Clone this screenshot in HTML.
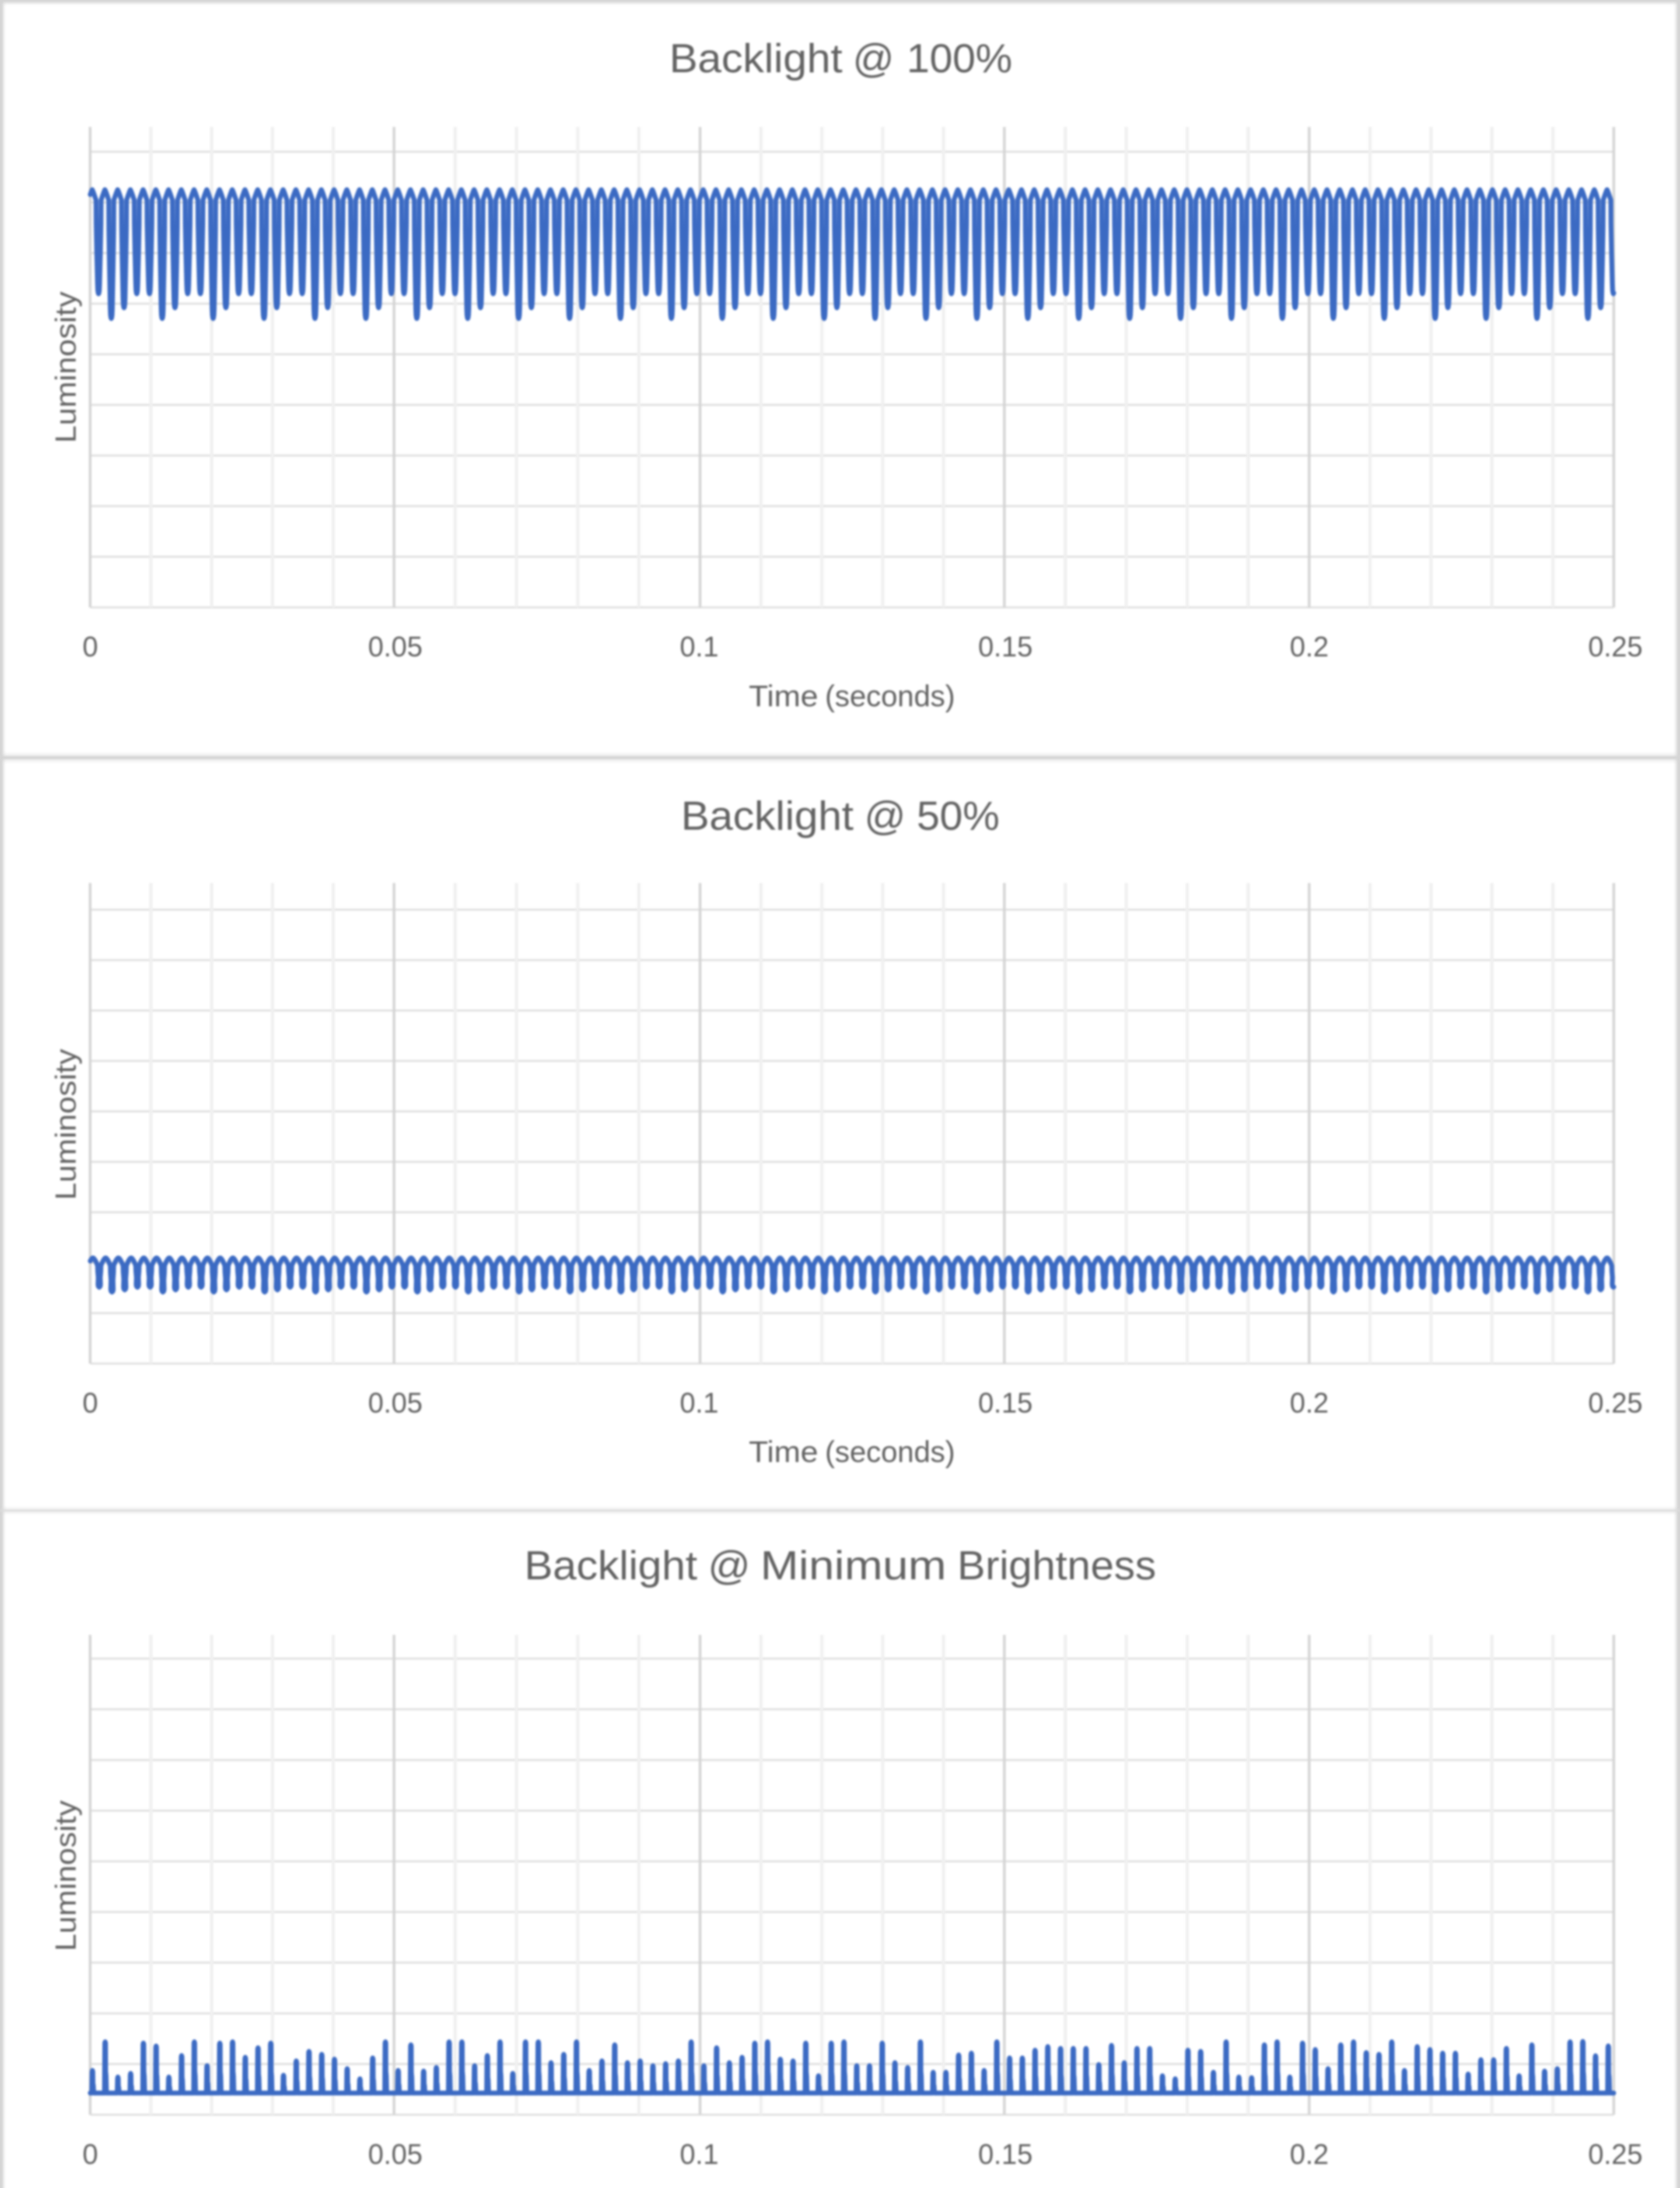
<!DOCTYPE html>
<html><head><meta charset="utf-8"><title>Backlight luminosity charts</title>
<style>
html,body{margin:0;padding:0;background:#fff;}
body{width:3840px;height:5179px;overflow:hidden;}
svg{display:block;}
text{font-family:"Liberation Sans",Arial,sans-serif;fill:#626262;}
</style></head><body>
<svg width="3840" height="5179" viewBox="0 0 3840 5179">
<defs><filter id="b" x="-0.01" y="-0.01" width="1.02" height="1.02" color-interpolation-filters="sRGB"><feGaussianBlur stdDeviation="2.0"/></filter></defs>
<rect width="3840" height="5179" fill="#fff"/>
<g filter="url(#b)">
<defs><linearGradient id="gT" x1="0" y1="0" x2="0" y2="1"><stop offset="0" stop-color="#d4d4d4" stop-opacity="0.75"/><stop offset="1" stop-color="#d4d4d4" stop-opacity="0"/></linearGradient><linearGradient id="gB" x1="0" y1="1" x2="0" y2="0"><stop offset="0" stop-color="#d4d4d4" stop-opacity="0.75"/><stop offset="1" stop-color="#d4d4d4" stop-opacity="0"/></linearGradient><linearGradient id="gL" x1="0" y1="0" x2="1" y2="0"><stop offset="0" stop-color="#d4d4d4" stop-opacity="0.75"/><stop offset="1" stop-color="#d4d4d4" stop-opacity="0"/></linearGradient><linearGradient id="gR" x1="1" y1="0" x2="0" y2="0"><stop offset="0" stop-color="#d4d4d4" stop-opacity="0.75"/><stop offset="1" stop-color="#d4d4d4" stop-opacity="0"/></linearGradient><linearGradient id="gT2" x1="0" y1="0" x2="0" y2="1"><stop offset="0" stop-color="#d4d4d4" stop-opacity="0.45"/><stop offset="1" stop-color="#d4d4d4" stop-opacity="0"/></linearGradient><linearGradient id="gB2" x1="0" y1="1" x2="0" y2="0"><stop offset="0" stop-color="#d4d4d4" stop-opacity="0.45"/><stop offset="1" stop-color="#d4d4d4" stop-opacity="0"/></linearGradient></defs>
<rect x="0" y="4" width="3840" height="8" fill="url(#gT)"/>
<rect x="5" y="0" width="8" height="5179" fill="url(#gL)"/>
<rect x="3826" y="0" width="8" height="5179" fill="url(#gR)"/>
<rect x="0" y="5165.5" width="3840" height="9" fill="url(#gB)"/>
<rect x="0" y="1718" width="3840" height="10" fill="url(#gB2)"/>
<rect x="0" y="1734.8" width="3840" height="10" fill="url(#gT2)"/>
<rect x="0" y="3441" width="3840" height="8.6" fill="url(#gB2)" opacity="0.8"/>
<rect x="0" y="3454" width="3840" height="8" fill="url(#gT2)" opacity="0.8"/>
<g fill="#d4d4d4">
<rect x="-10" y="-10" width="15.5" height="5199"/>
<rect x="3834" y="-10" width="20" height="5199"/>
<rect x="-10" y="-10" width="3860" height="14"/>
<rect x="-10" y="5174.5" width="3860" height="20"/>
<rect x="0" y="1728" width="3840" height="6.8"/>
</g>
<rect x="0" y="3449.6" width="3840" height="4.4" fill="#dcdcdc"/>
<g stroke="#dfdfdf" stroke-width="4.5">
<line x1="206.3" y1="346.8" x2="3688.5" y2="346.8"/>
<line x1="206.3" y1="462.5" x2="3688.5" y2="462.5"/>
<line x1="206.3" y1="578.2" x2="3688.5" y2="578.2"/>
<line x1="206.3" y1="693.9" x2="3688.5" y2="693.9"/>
<line x1="206.3" y1="809.6" x2="3688.5" y2="809.6"/>
<line x1="206.3" y1="925.2" x2="3688.5" y2="925.2"/>
<line x1="206.3" y1="1040.9" x2="3688.5" y2="1040.9"/>
<line x1="206.3" y1="1156.6" x2="3688.5" y2="1156.6"/>
<line x1="206.3" y1="1272.3" x2="3688.5" y2="1272.3"/>
<line x1="206.3" y1="1388" x2="3688.5" y2="1388"/>
</g>
<g stroke="#f0f0f0" stroke-width="7.5">
<line x1="344.9" y1="290" x2="344.9" y2="1388"/>
<line x1="483.8" y1="290" x2="483.8" y2="1388"/>
<line x1="622.8" y1="290" x2="622.8" y2="1388"/>
<line x1="761.7" y1="290" x2="761.7" y2="1388"/>
<line x1="1040.5" y1="290" x2="1040.5" y2="1388"/>
<line x1="1180.4" y1="290" x2="1180.4" y2="1388"/>
<line x1="1320.4" y1="290" x2="1320.4" y2="1388"/>
<line x1="1460.3" y1="290" x2="1460.3" y2="1388"/>
<line x1="1739.3" y1="290" x2="1739.3" y2="1388"/>
<line x1="1878.4" y1="290" x2="1878.4" y2="1388"/>
<line x1="2017.4" y1="290" x2="2017.4" y2="1388"/>
<line x1="2156.5" y1="290" x2="2156.5" y2="1388"/>
<line x1="2435" y1="290" x2="2435" y2="1388"/>
<line x1="2574.3" y1="290" x2="2574.3" y2="1388"/>
<line x1="2713.7" y1="290" x2="2713.7" y2="1388"/>
<line x1="2853" y1="290" x2="2853" y2="1388"/>
<line x1="3131.6" y1="290" x2="3131.6" y2="1388"/>
<line x1="3270.9" y1="290" x2="3270.9" y2="1388"/>
<line x1="3410.1" y1="290" x2="3410.1" y2="1388"/>
<line x1="3549.4" y1="290" x2="3549.4" y2="1388"/>
</g>
<g stroke="#d4d4d4" stroke-width="6">
<line x1="206" y1="290" x2="206" y2="1388"/>
<line x1="900.6" y1="290" x2="900.6" y2="1388"/>
<line x1="1600.2" y1="290" x2="1600.2" y2="1388"/>
<line x1="2295.6" y1="290" x2="2295.6" y2="1388"/>
<line x1="2992.4" y1="290" x2="2992.4" y2="1388"/>
<line x1="3688.6" y1="290" x2="3688.6" y2="1388"/>
</g>
<polyline fill="none" stroke="#3b6ac3" stroke-width="11" stroke-linejoin="round" stroke-linecap="round" points="206.3,444.5 206.4,444.3 207.5,441.3 208.6,438.4 209.7,435.7 210.8,433.5 211.8,435.7 212.9,438.4 214,441.3 215.1,444.3 216.2,447.5 217.3,450.7 218.4,454.1 219.5,457.5 219.8,511 221.1,575.2 223,649.5 223.6,663.5 224.5,669.5 225.3,671.5 226.1,669.5 227,663.5 227.6,649.5 229.5,575.2 230.8,511 231.1,457.5 232.2,454.1 233.3,450.7 234.4,447.5 235.5,444.3 236.6,441.3 237.7,438.4 238.8,435.7 239.8,433.5 240.9,435.7 242,438.4 243.1,441.3 244.2,444.3 245.3,447.5 246.4,450.7 247.5,454.1 248.6,457.5 248.9,525.1 250.2,606.3 252.1,706 252.7,720 253.6,726 254.4,728 255.2,726 256.1,720 256.7,706 258.6,606.3 259.9,525.1 260.2,457.5 261.3,454.1 262.4,450.7 263.5,447.5 264.6,444.3 265.7,441.3 266.8,438.4 267.9,435.7 268.9,433.5 270,435.7 271.1,438.4 272.2,441.3 273.3,444.3 274.4,447.5 275.5,450.7 276.6,454.1 277.7,457.5 278,519 279.3,592.8 281.2,681.5 281.8,695.5 282.7,701.5 283.5,703.5 284.3,701.5 285.2,695.5 285.8,681.5 287.7,592.8 289,519 289.3,457.5 290.4,454.1 291.5,450.7 292.6,447.5 293.7,444.3 294.8,441.3 295.9,438.4 296.9,435.7 298,433.5 299.1,435.7 300.2,438.4 301.3,441.3 302.4,444.3 303.5,447.5 304.6,450.7 305.7,454.1 306.8,457.5 307.1,511 308.4,575.2 310.3,649.5 310.9,663.5 311.8,669.5 312.6,671.5 313.4,669.5 314.3,663.5 314.9,649.5 316.8,575.2 318.1,511 318.4,457.5 319.5,454.1 320.6,450.7 321.7,447.5 322.8,444.3 323.9,441.3 324.9,438.4 326,435.7 327.1,433.5 328.2,435.7 329.3,438.4 330.4,441.3 331.5,444.3 332.6,447.5 333.7,450.7 334.8,454.1 335.9,457.5 336.2,511 337.5,575.2 339.4,649.5 340,663.5 340.9,669.5 341.7,671.5 342.5,669.5 343.4,663.5 344,649.5 345.9,575.2 347.2,511 347.5,457.5 348.6,454.1 349.7,450.7 350.8,447.5 351.9,444.3 353,441.3 354,438.4 355.1,435.7 356.2,433.5 357.3,435.7 358.4,438.4 359.5,441.3 360.6,444.3 361.7,447.5 362.8,450.7 363.9,454.1 365,457.5 365.3,525.1 366.6,606.3 368.5,706 369.1,720 370,726 370.8,728 371.6,726 372.5,720 373.1,706 375,606.3 376.3,525.1 376.6,457.5 377.7,454.1 378.8,450.7 379.9,447.5 381,444.3 382,441.3 383.1,438.4 384.2,435.7 385.3,433.5 386.4,435.7 387.5,438.4 388.6,441.3 389.7,444.3 390.8,447.5 391.9,450.7 393,454.1 394.1,457.5 394.4,519 395.7,592.8 397.6,681.5 398.2,695.5 399.1,701.5 399.9,703.5 400.7,701.5 401.6,695.5 402.2,681.5 404.1,592.8 405.4,519 405.7,457.5 406.8,454.1 407.9,450.7 409,447.5 410,444.3 411.1,441.3 412.2,438.4 413.3,435.7 414.4,433.5 415.5,435.7 416.6,438.4 417.7,441.3 418.8,444.3 419.9,447.5 421,450.7 422.1,454.1 423.2,457.5 423.5,511 424.8,575.2 426.7,649.5 427.3,663.5 428.2,669.5 429,671.5 429.8,669.5 430.7,663.5 431.3,649.5 433.2,575.2 434.5,511 434.8,457.5 435.9,454.1 437,450.7 438.1,447.5 439.1,444.3 440.2,441.3 441.3,438.4 442.4,435.7 443.5,433.5 444.6,435.7 445.7,438.4 446.8,441.3 447.9,444.3 449,447.5 450.1,450.7 451.2,454.1 452.3,457.5 452.6,511 453.9,575.2 455.8,649.5 456.4,663.5 457.3,669.5 458.1,671.5 458.9,669.5 459.8,663.5 460.4,649.5 462.3,575.2 463.6,511 463.9,457.5 465,454.1 466.1,450.7 467.1,447.5 468.2,444.3 469.3,441.3 470.4,438.4 471.5,435.7 472.6,433.5 473.7,435.7 474.8,438.4 475.9,441.3 477,444.3 478.1,447.5 479.2,450.7 480.3,454.1 481.4,457.5 481.7,525.1 483,606.3 484.9,706 485.5,720 486.4,726 487.2,728 488,726 488.9,720 489.5,706 491.4,606.3 492.7,525.1 493,457.5 494.1,454.1 495.2,450.7 496.2,447.5 497.3,444.3 498.4,441.3 499.5,438.4 500.6,435.7 501.7,433.5 502.8,435.7 503.9,438.4 505,441.3 506.1,444.3 507.2,447.5 508.3,450.7 509.4,454.1 510.5,457.5 510.8,519 512.1,592.8 514,681.5 514.6,695.5 515.5,701.5 516.3,703.5 517.1,701.5 518,695.5 518.6,681.5 520.5,592.8 521.8,519 522.1,457.5 523.2,454.1 524.2,450.7 525.3,447.5 526.4,444.3 527.5,441.3 528.6,438.4 529.7,435.7 530.8,433.5 531.9,435.7 533,438.4 534.1,441.3 535.2,444.3 536.3,447.5 537.4,450.7 538.5,454.1 539.6,457.5 539.9,511 541.2,575.2 543.1,649.5 543.7,663.5 544.6,669.5 545.4,671.5 546.2,669.5 547.1,663.5 547.7,649.5 549.6,575.2 550.9,511 551.2,457.5 552.2,454.1 553.3,450.7 554.4,447.5 555.5,444.3 556.6,441.3 557.7,438.4 558.8,435.7 559.9,433.5 561,435.7 562.1,438.4 563.2,441.3 564.3,444.3 565.4,447.5 566.5,450.7 567.6,454.1 568.7,457.5 569,511 570.3,575.2 572.2,649.5 572.8,663.5 573.7,669.5 574.5,671.5 575.3,669.5 576.2,663.5 576.8,649.5 578.7,575.2 580,511 580.3,457.5 581.3,454.1 582.4,450.7 583.5,447.5 584.6,444.3 585.7,441.3 586.8,438.4 587.9,435.7 589,433.5 590.1,435.7 591.2,438.4 592.3,441.3 593.4,444.3 594.5,447.5 595.6,450.7 596.7,454.1 597.7,457.5 598,525.1 599.3,606.3 601.2,706 601.8,720 602.7,726 603.5,728 604.3,726 605.2,720 605.8,706 607.7,606.3 609,525.1 609.3,457.5 610.4,454.1 611.5,450.7 612.6,447.5 613.7,444.3 614.8,441.3 615.9,438.4 617,435.7 618.1,433.5 619.2,435.7 620.3,438.4 621.4,441.3 622.5,444.3 623.6,447.5 624.7,450.7 625.8,454.1 626.8,457.5 627.1,519 628.4,592.8 630.3,681.5 630.9,695.5 631.8,701.5 632.6,703.5 633.4,701.5 634.3,695.5 634.9,681.5 636.8,592.8 638.1,519 638.4,457.5 639.5,454.1 640.6,450.7 641.7,447.5 642.8,444.3 643.9,441.3 645,438.4 646.1,435.7 647.2,433.5 648.3,435.7 649.4,438.4 650.5,441.3 651.6,444.3 652.7,447.5 653.8,450.7 654.8,454.1 655.9,457.5 656.2,511 657.5,575.2 659.4,649.5 660,663.5 660.9,669.5 661.7,671.5 662.5,669.5 663.4,663.5 664,649.5 665.9,575.2 667.2,511 667.5,457.5 668.6,454.1 669.7,450.7 670.8,447.5 671.9,444.3 673,441.3 674.1,438.4 675.2,435.7 676.3,433.5 677.4,435.7 678.5,438.4 679.6,441.3 680.7,444.3 681.8,447.5 682.8,450.7 683.9,454.1 685,457.5 685.3,511 686.6,575.2 688.5,649.5 689.1,663.5 690,669.5 690.8,671.5 691.6,669.5 692.5,663.5 693.1,649.5 695,575.2 696.3,511 696.6,457.5 697.7,454.1 698.8,450.7 699.9,447.5 701,444.3 702.1,441.3 703.2,438.4 704.3,435.7 705.4,433.5 706.5,435.7 707.6,438.4 708.7,441.3 709.8,444.3 710.9,447.5 711.9,450.7 713,454.1 714.1,457.5 714.4,525.1 715.7,606.3 717.6,706 718.2,720 719.1,726 719.9,728 720.7,726 721.6,720 722.2,706 724.1,606.3 725.4,525.1 725.7,457.5 726.8,454.1 727.9,450.7 729,447.5 730.1,444.3 731.2,441.3 732.3,438.4 733.4,435.7 734.5,433.5 735.6,435.7 736.7,438.4 737.8,441.3 738.9,444.3 739.9,447.5 741,450.7 742.1,454.1 743.2,457.5 743.5,519 744.8,592.8 746.7,681.5 747.3,695.5 748.2,701.5 749,703.5 749.8,701.5 750.7,695.5 751.3,681.5 753.2,592.8 754.5,519 754.8,457.5 755.9,454.1 757,450.7 758.1,447.5 759.2,444.3 760.3,441.3 761.4,438.4 762.5,435.7 763.6,433.5 764.7,435.7 765.8,438.4 766.9,441.3 768,444.3 769,447.5 770.1,450.7 771.2,454.1 772.3,457.5 772.6,511 773.9,575.2 775.8,649.5 776.4,663.5 777.3,669.5 778.1,671.5 778.9,669.5 779.8,663.5 780.4,649.5 782.3,575.2 783.6,511 783.9,457.5 785,454.1 786.1,450.7 787.2,447.5 788.3,444.3 789.4,441.3 790.5,438.4 791.6,435.7 792.7,433.5 793.8,435.7 794.9,438.4 796,441.3 797,444.3 798.1,447.5 799.2,450.7 800.3,454.1 801.4,457.5 801.7,511 803,575.2 804.9,649.5 805.5,663.5 806.4,669.5 807.2,671.5 808,669.5 808.9,663.5 809.5,649.5 811.4,575.2 812.7,511 813,457.5 814.1,454.1 815.2,450.7 816.3,447.5 817.4,444.3 818.5,441.3 819.6,438.4 820.7,435.7 821.8,433.5 822.9,435.7 824,438.4 825,441.3 826.1,444.3 827.2,447.5 828.3,450.7 829.4,454.1 830.5,457.5 830.8,525.1 832.1,606.3 834,706 834.6,720 835.5,726 836.3,728 837.1,726 838,720 838.6,706 840.5,606.3 841.8,525.1 842.1,457.5 843.2,454.1 844.3,450.7 845.4,447.5 846.5,444.3 847.6,441.3 848.7,438.4 849.8,435.7 850.9,433.5 852,435.7 853.1,438.4 854.1,441.3 855.2,444.3 856.3,447.5 857.4,450.7 858.5,454.1 859.6,457.5 859.9,519 861.2,592.8 863.1,681.5 863.7,695.5 864.6,701.5 865.4,703.5 866.2,701.5 867.1,695.5 867.7,681.5 869.6,592.8 870.9,519 871.2,457.5 872.3,454.1 873.4,450.7 874.5,447.5 875.6,444.3 876.7,441.3 877.8,438.4 878.9,435.7 880,433.5 881.1,435.7 882.1,438.4 883.2,441.3 884.3,444.3 885.4,447.5 886.5,450.7 887.6,454.1 888.7,457.5 889,511 890.3,575.2 892.2,649.5 892.8,663.5 893.7,669.5 894.5,671.5 895.3,669.5 896.2,663.5 896.8,649.5 898.7,575.2 900,511 900.3,457.5 901.4,454.1 902.5,450.7 903.6,447.5 904.7,444.3 905.8,441.3 906.9,438.4 908,435.7 909.1,433.5 910.1,435.7 911.2,438.4 912.3,441.3 913.4,444.3 914.5,447.5 915.6,450.7 916.7,454.1 917.8,457.5 918.1,511 919.4,575.2 921.3,649.5 921.9,663.5 922.8,669.5 923.6,671.5 924.4,669.5 925.3,663.5 925.9,649.5 927.8,575.2 929.1,511 929.4,457.5 930.5,454.1 931.6,450.7 932.7,447.5 933.8,444.3 934.9,441.3 936,438.4 937.1,435.7 938.2,433.5 939.2,435.7 940.3,438.4 941.4,441.3 942.5,444.3 943.6,447.5 944.7,450.7 945.8,454.1 946.9,457.5 947.2,525.1 948.5,606.3 950.4,706 951,720 951.9,726 952.7,728 953.5,726 954.4,720 955,706 956.9,606.3 958.2,525.1 958.5,457.5 959.6,454.1 960.7,450.7 961.8,447.5 962.9,444.3 964,441.3 965.1,438.4 966.2,435.7 967.2,433.5 968.3,435.7 969.4,438.4 970.5,441.3 971.6,444.3 972.7,447.5 973.8,450.7 974.9,454.1 976,457.5 976.3,519 977.6,592.8 979.5,681.5 980.1,695.5 981,701.5 981.8,703.5 982.6,701.5 983.5,695.5 984.1,681.5 986,592.8 987.3,519 987.6,457.5 988.7,454.1 989.8,450.7 990.9,447.5 992,444.3 993.1,441.3 994.2,438.4 995.3,435.7 996.3,433.5 997.4,435.7 998.5,438.4 999.6,441.3 1000.7,444.3 1001.8,447.5 1002.9,450.7 1004,454.1 1005.1,457.5 1005.4,511 1006.7,575.2 1008.6,649.5 1009.2,663.5 1010.1,669.5 1010.9,671.5 1011.7,669.5 1012.6,663.5 1013.2,649.5 1015.1,575.2 1016.4,511 1016.7,457.5 1017.8,454.1 1018.9,450.7 1020,447.5 1021.1,444.3 1022.2,441.3 1023.3,438.4 1024.3,435.7 1025.4,433.5 1026.5,435.7 1027.6,438.4 1028.7,441.3 1029.8,444.3 1030.9,447.5 1032,450.7 1033.1,454.1 1034.2,457.5 1034.5,511 1035.8,575.2 1037.7,649.5 1038.3,663.5 1039.2,669.5 1040,671.5 1040.8,669.5 1041.7,663.5 1042.3,649.5 1044.2,575.2 1045.5,511 1045.8,457.5 1046.9,454.1 1048,450.7 1049.1,447.5 1050.2,444.3 1051.3,441.3 1052.3,438.4 1053.4,435.7 1054.5,433.5 1055.6,435.7 1056.7,438.4 1057.8,441.3 1058.9,444.3 1060,447.5 1061.1,450.7 1062.2,454.1 1063.3,457.5 1063.6,525.1 1064.9,606.3 1066.8,706 1067.4,720 1068.3,726 1069.1,728 1069.9,726 1070.8,720 1071.4,706 1073.3,606.3 1074.6,525.1 1074.9,457.5 1076,454.1 1077.1,450.7 1078.2,447.5 1079.3,444.3 1080.4,441.3 1081.4,438.4 1082.5,435.7 1083.6,433.5 1084.7,435.7 1085.8,438.4 1086.9,441.3 1088,444.3 1089.1,447.5 1090.2,450.7 1091.3,454.1 1092.4,457.5 1092.7,519 1094,592.8 1095.9,681.5 1096.5,695.5 1097.4,701.5 1098.2,703.5 1099,701.5 1099.9,695.5 1100.5,681.5 1102.4,592.8 1103.7,519 1104,457.5 1105.1,454.1 1106.2,450.7 1107.3,447.5 1108.4,444.3 1109.4,441.3 1110.5,438.4 1111.6,435.7 1112.7,433.5 1113.8,435.7 1114.9,438.4 1116,441.3 1117.1,444.3 1118.2,447.5 1119.3,450.7 1120.4,454.1 1121.5,457.5 1121.8,511 1123.1,575.2 1125,649.5 1125.6,663.5 1126.5,669.5 1127.3,671.5 1128.1,669.5 1129,663.5 1129.6,649.5 1131.5,575.2 1132.8,511 1133.1,457.5 1134.2,454.1 1135.3,450.7 1136.4,447.5 1137.5,444.3 1138.5,441.3 1139.6,438.4 1140.7,435.7 1141.8,433.5 1142.9,435.7 1144,438.4 1145.1,441.3 1146.2,444.3 1147.3,447.5 1148.4,450.7 1149.5,454.1 1150.6,457.5 1150.9,511 1152.2,575.2 1154.1,649.5 1154.7,663.5 1155.6,669.5 1156.4,671.5 1157.2,669.5 1158.1,663.5 1158.7,649.5 1160.6,575.2 1161.9,511 1162.2,457.5 1163.3,454.1 1164.4,450.7 1165.5,447.5 1166.5,444.3 1167.6,441.3 1168.7,438.4 1169.8,435.7 1170.9,433.5 1172,435.7 1173.1,438.4 1174.2,441.3 1175.3,444.3 1176.4,447.5 1177.5,450.7 1178.6,454.1 1179.7,457.5 1180,525.1 1181.3,606.3 1183.2,706 1183.8,720 1184.7,726 1185.5,728 1186.3,726 1187.2,720 1187.8,706 1189.7,606.3 1191,525.1 1191.3,457.5 1192.4,454.1 1193.5,450.7 1194.5,447.5 1195.6,444.3 1196.7,441.3 1197.8,438.4 1198.9,435.7 1200,433.5 1201.1,435.7 1202.2,438.4 1203.3,441.3 1204.4,444.3 1205.5,447.5 1206.6,450.7 1207.7,454.1 1208.8,457.5 1209.1,519 1210.4,592.8 1212.3,681.5 1212.9,695.5 1213.8,701.5 1214.6,703.5 1215.4,701.5 1216.3,695.5 1216.9,681.5 1218.8,592.8 1220.1,519 1220.4,457.5 1221.5,454.1 1222.6,450.7 1223.6,447.5 1224.7,444.3 1225.8,441.3 1226.9,438.4 1228,435.7 1229.1,433.5 1230.2,435.7 1231.3,438.4 1232.4,441.3 1233.5,444.3 1234.6,447.5 1235.7,450.7 1236.8,454.1 1237.9,457.5 1238.2,511 1239.5,575.2 1241.4,649.5 1242,663.5 1242.9,669.5 1243.7,671.5 1244.5,669.5 1245.4,663.5 1246,649.5 1247.9,575.2 1249.2,511 1249.5,457.5 1250.6,454.1 1251.6,450.7 1252.7,447.5 1253.8,444.3 1254.9,441.3 1256,438.4 1257.1,435.7 1258.2,433.5 1259.3,435.7 1260.4,438.4 1261.5,441.3 1262.6,444.3 1263.7,447.5 1264.8,450.7 1265.9,454.1 1267,457.5 1267.3,511 1268.6,575.2 1270.5,649.5 1271.1,663.5 1272,669.5 1272.8,671.5 1273.6,669.5 1274.5,663.5 1275.1,649.5 1277,575.2 1278.3,511 1278.6,457.5 1279.6,454.1 1280.7,450.7 1281.8,447.5 1282.9,444.3 1284,441.3 1285.1,438.4 1286.2,435.7 1287.3,433.5 1288.4,435.7 1289.5,438.4 1290.6,441.3 1291.7,444.3 1292.8,447.5 1293.9,450.7 1295,454.1 1296.1,457.5 1296.4,525.1 1297.7,606.3 1299.6,706 1300.2,720 1301.1,726 1301.9,728 1302.7,726 1303.6,720 1304.2,706 1306.1,606.3 1307.4,525.1 1307.7,457.5 1308.7,454.1 1309.8,450.7 1310.9,447.5 1312,444.3 1313.1,441.3 1314.2,438.4 1315.3,435.7 1316.4,433.5 1317.5,435.7 1318.6,438.4 1319.7,441.3 1320.8,444.3 1321.9,447.5 1323,450.7 1324.1,454.1 1325.1,457.5 1325.4,519 1326.7,592.8 1328.6,681.5 1329.2,695.5 1330.1,701.5 1330.9,703.5 1331.7,701.5 1332.6,695.5 1333.2,681.5 1335.1,592.8 1336.4,519 1336.7,457.5 1337.8,454.1 1338.9,450.7 1340,447.5 1341.1,444.3 1342.2,441.3 1343.3,438.4 1344.4,435.7 1345.5,433.5 1346.6,435.7 1347.7,438.4 1348.8,441.3 1349.9,444.3 1351,447.5 1352.1,450.7 1353.2,454.1 1354.2,457.5 1354.5,511 1355.8,575.2 1357.7,649.5 1358.3,663.5 1359.2,669.5 1360,671.5 1360.8,669.5 1361.7,663.5 1362.3,649.5 1364.2,575.2 1365.5,511 1365.8,457.5 1366.9,454.1 1368,450.7 1369.1,447.5 1370.2,444.3 1371.3,441.3 1372.4,438.4 1373.5,435.7 1374.6,433.5 1375.7,435.7 1376.8,438.4 1377.9,441.3 1379,444.3 1380.1,447.5 1381.2,450.7 1382.2,454.1 1383.3,457.5 1383.6,511 1384.9,575.2 1386.8,649.5 1387.4,663.5 1388.3,669.5 1389.1,671.5 1389.9,669.5 1390.8,663.5 1391.4,649.5 1393.3,575.2 1394.6,511 1394.9,457.5 1396,454.1 1397.1,450.7 1398.2,447.5 1399.3,444.3 1400.4,441.3 1401.5,438.4 1402.6,435.7 1403.7,433.5 1404.8,435.7 1405.9,438.4 1407,441.3 1408.1,444.3 1409.2,447.5 1410.2,450.7 1411.3,454.1 1412.4,457.5 1412.7,525.1 1414,606.3 1415.9,706 1416.5,720 1417.4,726 1418.2,728 1419,726 1419.9,720 1420.5,706 1422.4,606.3 1423.7,525.1 1424,457.5 1425.1,454.1 1426.2,450.7 1427.3,447.5 1428.4,444.3 1429.5,441.3 1430.6,438.4 1431.7,435.7 1432.8,433.5 1433.9,435.7 1435,438.4 1436.1,441.3 1437.2,444.3 1438.3,447.5 1439.3,450.7 1440.4,454.1 1441.5,457.5 1441.8,519 1443.1,592.8 1445,681.5 1445.6,695.5 1446.5,701.5 1447.3,703.5 1448.1,701.5 1449,695.5 1449.6,681.5 1451.5,592.8 1452.8,519 1453.1,457.5 1454.2,454.1 1455.3,450.7 1456.4,447.5 1457.5,444.3 1458.6,441.3 1459.7,438.4 1460.8,435.7 1461.9,433.5 1463,435.7 1464.1,438.4 1465.2,441.3 1466.3,444.3 1467.3,447.5 1468.4,450.7 1469.5,454.1 1470.6,457.5 1470.9,511 1472.2,575.2 1474.1,649.5 1474.7,663.5 1475.6,669.5 1476.4,671.5 1477.2,669.5 1478.1,663.5 1478.7,649.5 1480.6,575.2 1481.9,511 1482.2,457.5 1483.3,454.1 1484.4,450.7 1485.5,447.5 1486.6,444.3 1487.7,441.3 1488.8,438.4 1489.9,435.7 1491,433.5 1492.1,435.7 1493.2,438.4 1494.3,441.3 1495.3,444.3 1496.4,447.5 1497.5,450.7 1498.6,454.1 1499.7,457.5 1500,511 1501.3,575.2 1503.2,649.5 1503.8,663.5 1504.7,669.5 1505.5,671.5 1506.3,669.5 1507.2,663.5 1507.8,649.5 1509.7,575.2 1511,511 1511.3,457.5 1512.4,454.1 1513.5,450.7 1514.6,447.5 1515.7,444.3 1516.8,441.3 1517.9,438.4 1519,435.7 1520.1,433.5 1521.2,435.7 1522.3,438.4 1523.4,441.3 1524.4,444.3 1525.5,447.5 1526.6,450.7 1527.7,454.1 1528.8,457.5 1529.1,525.1 1530.4,606.3 1532.3,706 1532.9,720 1533.8,726 1534.6,728 1535.4,726 1536.3,720 1536.9,706 1538.8,606.3 1540.1,525.1 1540.4,457.5 1541.5,454.1 1542.6,450.7 1543.7,447.5 1544.8,444.3 1545.9,441.3 1547,438.4 1548.1,435.7 1549.2,433.5 1550.3,435.7 1551.4,438.4 1552.4,441.3 1553.5,444.3 1554.6,447.5 1555.7,450.7 1556.8,454.1 1557.9,457.5 1558.2,519 1559.5,592.8 1561.4,681.5 1562,695.5 1562.9,701.5 1563.7,703.5 1564.5,701.5 1565.4,695.5 1566,681.5 1567.9,592.8 1569.2,519 1569.5,457.5 1570.6,454.1 1571.7,450.7 1572.8,447.5 1573.9,444.3 1575,441.3 1576.1,438.4 1577.2,435.7 1578.3,433.5 1579.4,435.7 1580.5,438.4 1581.5,441.3 1582.6,444.3 1583.7,447.5 1584.8,450.7 1585.9,454.1 1587,457.5 1587.3,511 1588.6,575.2 1590.5,649.5 1591.1,663.5 1592,669.5 1592.8,671.5 1593.6,669.5 1594.5,663.5 1595.1,649.5 1597,575.2 1598.3,511 1598.6,457.5 1599.7,454.1 1600.8,450.7 1601.9,447.5 1603,444.3 1604.1,441.3 1605.2,438.4 1606.3,435.7 1607.4,433.5 1608.5,435.7 1609.5,438.4 1610.6,441.3 1611.7,444.3 1612.8,447.5 1613.9,450.7 1615,454.1 1616.1,457.5 1616.4,511 1617.7,575.2 1619.6,649.5 1620.2,663.5 1621.1,669.5 1621.9,671.5 1622.7,669.5 1623.6,663.5 1624.2,649.5 1626.1,575.2 1627.4,511 1627.7,457.5 1628.8,454.1 1629.9,450.7 1631,447.5 1632.1,444.3 1633.2,441.3 1634.3,438.4 1635.4,435.7 1636.5,433.5 1637.5,435.7 1638.6,438.4 1639.7,441.3 1640.8,444.3 1641.9,447.5 1643,450.7 1644.1,454.1 1645.2,457.5 1645.5,525.1 1646.8,606.3 1648.7,706 1649.3,720 1650.2,726 1651,728 1651.8,726 1652.7,720 1653.3,706 1655.2,606.3 1656.5,525.1 1656.8,457.5 1657.9,454.1 1659,450.7 1660.1,447.5 1661.2,444.3 1662.3,441.3 1663.4,438.4 1664.5,435.7 1665.6,433.5 1666.6,435.7 1667.7,438.4 1668.8,441.3 1669.9,444.3 1671,447.5 1672.1,450.7 1673.2,454.1 1674.3,457.5 1674.6,519 1675.9,592.8 1677.8,681.5 1678.4,695.5 1679.3,701.5 1680.1,703.5 1680.9,701.5 1681.8,695.5 1682.4,681.5 1684.3,592.8 1685.6,519 1685.9,457.5 1687,454.1 1688.1,450.7 1689.2,447.5 1690.3,444.3 1691.4,441.3 1692.5,438.4 1693.6,435.7 1694.6,433.5 1695.7,435.7 1696.8,438.4 1697.9,441.3 1699,444.3 1700.1,447.5 1701.2,450.7 1702.3,454.1 1703.4,457.5 1703.7,511 1705,575.2 1706.9,649.5 1707.5,663.5 1708.4,669.5 1709.2,671.5 1710,669.5 1710.9,663.5 1711.5,649.5 1713.4,575.2 1714.7,511 1715,457.5 1716.1,454.1 1717.2,450.7 1718.3,447.5 1719.4,444.3 1720.5,441.3 1721.6,438.4 1722.7,435.7 1723.7,433.5 1724.8,435.7 1725.9,438.4 1727,441.3 1728.1,444.3 1729.2,447.5 1730.3,450.7 1731.4,454.1 1732.5,457.5 1732.8,511 1734.1,575.2 1736,649.5 1736.6,663.5 1737.5,669.5 1738.3,671.5 1739.1,669.5 1740,663.5 1740.6,649.5 1742.5,575.2 1743.8,511 1744.1,457.5 1745.2,454.1 1746.3,450.7 1747.4,447.5 1748.5,444.3 1749.6,441.3 1750.7,438.4 1751.7,435.7 1752.8,433.5 1753.9,435.7 1755,438.4 1756.1,441.3 1757.2,444.3 1758.3,447.5 1759.4,450.7 1760.5,454.1 1761.6,457.5 1761.9,525.1 1763.2,606.3 1765.1,706 1765.7,720 1766.6,726 1767.4,728 1768.2,726 1769.1,720 1769.7,706 1771.6,606.3 1772.9,525.1 1773.2,457.5 1774.3,454.1 1775.4,450.7 1776.5,447.5 1777.6,444.3 1778.7,441.3 1779.7,438.4 1780.8,435.7 1781.9,433.5 1783,435.7 1784.1,438.4 1785.2,441.3 1786.3,444.3 1787.4,447.5 1788.5,450.7 1789.6,454.1 1790.7,457.5 1791,519 1792.3,592.8 1794.2,681.5 1794.8,695.5 1795.7,701.5 1796.5,703.5 1797.3,701.5 1798.2,695.5 1798.8,681.5 1800.7,592.8 1802,519 1802.3,457.5 1803.4,454.1 1804.5,450.7 1805.6,447.5 1806.7,444.3 1807.8,441.3 1808.8,438.4 1809.9,435.7 1811,433.5 1812.1,435.7 1813.2,438.4 1814.3,441.3 1815.4,444.3 1816.5,447.5 1817.6,450.7 1818.7,454.1 1819.8,457.5 1820.1,511 1821.4,575.2 1823.3,649.5 1823.9,663.5 1824.8,669.5 1825.6,671.5 1826.4,669.5 1827.3,663.5 1827.9,649.5 1829.8,575.2 1831.1,511 1831.4,457.5 1832.5,454.1 1833.6,450.7 1834.7,447.5 1835.8,444.3 1836.8,441.3 1837.9,438.4 1839,435.7 1840.1,433.5 1841.2,435.7 1842.3,438.4 1843.4,441.3 1844.5,444.3 1845.6,447.5 1846.7,450.7 1847.8,454.1 1848.9,457.5 1849.2,511 1850.5,575.2 1852.4,649.5 1853,663.5 1853.9,669.5 1854.7,671.5 1855.5,669.5 1856.4,663.5 1857,649.5 1858.9,575.2 1860.2,511 1860.5,457.5 1861.6,454.1 1862.7,450.7 1863.8,447.5 1864.8,444.3 1865.9,441.3 1867,438.4 1868.1,435.7 1869.2,433.5 1870.3,435.7 1871.4,438.4 1872.5,441.3 1873.6,444.3 1874.7,447.5 1875.8,450.7 1876.9,454.1 1878,457.5 1878.3,525.1 1879.6,606.3 1881.5,706 1882.1,720 1883,726 1883.8,728 1884.6,726 1885.5,720 1886.1,706 1888,606.3 1889.3,525.1 1889.6,457.5 1890.7,454.1 1891.8,450.7 1892.9,447.5 1893.9,444.3 1895,441.3 1896.1,438.4 1897.2,435.7 1898.3,433.5 1899.4,435.7 1900.5,438.4 1901.6,441.3 1902.7,444.3 1903.8,447.5 1904.9,450.7 1906,454.1 1907.1,457.5 1907.4,519 1908.7,592.8 1910.6,681.5 1911.2,695.5 1912.1,701.5 1912.9,703.5 1913.7,701.5 1914.6,695.5 1915.2,681.5 1917.1,592.8 1918.4,519 1918.7,457.5 1919.8,454.1 1920.9,450.7 1921.9,447.5 1923,444.3 1924.1,441.3 1925.2,438.4 1926.3,435.7 1927.4,433.5 1928.5,435.7 1929.6,438.4 1930.7,441.3 1931.8,444.3 1932.9,447.5 1934,450.7 1935.1,454.1 1936.2,457.5 1936.5,511 1937.8,575.2 1939.7,649.5 1940.3,663.5 1941.2,669.5 1942,671.5 1942.8,669.5 1943.7,663.5 1944.3,649.5 1946.2,575.2 1947.5,511 1947.8,457.5 1948.9,454.1 1950,450.7 1951,447.5 1952.1,444.3 1953.2,441.3 1954.3,438.4 1955.4,435.7 1956.5,433.5 1957.6,435.7 1958.7,438.4 1959.8,441.3 1960.9,444.3 1962,447.5 1963.1,450.7 1964.2,454.1 1965.3,457.5 1965.6,511 1966.9,575.2 1968.8,649.5 1969.4,663.5 1970.3,669.5 1971.1,671.5 1971.9,669.5 1972.8,663.5 1973.4,649.5 1975.3,575.2 1976.6,511 1976.9,457.5 1978,454.1 1979,450.7 1980.1,447.5 1981.2,444.3 1982.3,441.3 1983.4,438.4 1984.5,435.7 1985.6,433.5 1986.7,435.7 1987.8,438.4 1988.9,441.3 1990,444.3 1991.1,447.5 1992.2,450.7 1993.3,454.1 1994.4,457.5 1994.7,525.1 1996,606.3 1997.9,706 1998.5,720 1999.4,726 2000.2,728 2001,726 2001.9,720 2002.5,706 2004.4,606.3 2005.7,525.1 2006,457.5 2007,454.1 2008.1,450.7 2009.2,447.5 2010.3,444.3 2011.4,441.3 2012.5,438.4 2013.6,435.7 2014.7,433.5 2015.8,435.7 2016.9,438.4 2018,441.3 2019.1,444.3 2020.2,447.5 2021.3,450.7 2022.4,454.1 2023.5,457.5 2023.8,519 2025.1,592.8 2027,681.5 2027.6,695.5 2028.5,701.5 2029.3,703.5 2030.1,701.5 2031,695.5 2031.6,681.5 2033.5,592.8 2034.8,519 2035.1,457.5 2036.1,454.1 2037.2,450.7 2038.3,447.5 2039.4,444.3 2040.5,441.3 2041.6,438.4 2042.7,435.7 2043.8,433.5 2044.9,435.7 2046,438.4 2047.1,441.3 2048.2,444.3 2049.3,447.5 2050.4,450.7 2051.5,454.1 2052.5,457.5 2052.8,511 2054.1,575.2 2056,649.5 2056.6,663.5 2057.5,669.5 2058.3,671.5 2059.1,669.5 2060,663.5 2060.6,649.5 2062.5,575.2 2063.8,511 2064.1,457.5 2065.2,454.1 2066.3,450.7 2067.4,447.5 2068.5,444.3 2069.6,441.3 2070.7,438.4 2071.8,435.7 2072.9,433.5 2074,435.7 2075.1,438.4 2076.2,441.3 2077.3,444.3 2078.4,447.5 2079.5,450.7 2080.6,454.1 2081.6,457.5 2081.9,511 2083.2,575.2 2085.1,649.5 2085.7,663.5 2086.6,669.5 2087.4,671.5 2088.2,669.5 2089.1,663.5 2089.7,649.5 2091.6,575.2 2092.9,511 2093.2,457.5 2094.3,454.1 2095.4,450.7 2096.5,447.5 2097.6,444.3 2098.7,441.3 2099.8,438.4 2100.9,435.7 2102,433.5 2103.1,435.7 2104.2,438.4 2105.3,441.3 2106.4,444.3 2107.5,447.5 2108.6,450.7 2109.6,454.1 2110.7,457.5 2111,525.1 2112.3,606.3 2114.2,706 2114.8,720 2115.7,726 2116.5,728 2117.3,726 2118.2,720 2118.8,706 2120.7,606.3 2122,525.1 2122.3,457.5 2123.4,454.1 2124.5,450.7 2125.6,447.5 2126.7,444.3 2127.8,441.3 2128.9,438.4 2130,435.7 2131.1,433.5 2132.2,435.7 2133.3,438.4 2134.4,441.3 2135.5,444.3 2136.6,447.5 2137.6,450.7 2138.7,454.1 2139.8,457.5 2140.1,519 2141.4,592.8 2143.3,681.5 2143.9,695.5 2144.8,701.5 2145.6,703.5 2146.4,701.5 2147.3,695.5 2147.9,681.5 2149.8,592.8 2151.1,519 2151.4,457.5 2152.5,454.1 2153.6,450.7 2154.7,447.5 2155.8,444.3 2156.9,441.3 2158,438.4 2159.1,435.7 2160.2,433.5 2161.3,435.7 2162.4,438.4 2163.5,441.3 2164.6,444.3 2165.7,447.5 2166.7,450.7 2167.8,454.1 2168.9,457.5 2169.2,511 2170.5,575.2 2172.4,649.5 2173,663.5 2173.9,669.5 2174.7,671.5 2175.5,669.5 2176.4,663.5 2177,649.5 2178.9,575.2 2180.2,511 2180.5,457.5 2181.6,454.1 2182.7,450.7 2183.8,447.5 2184.9,444.3 2186,441.3 2187.1,438.4 2188.2,435.7 2189.3,433.5 2190.4,435.7 2191.5,438.4 2192.6,441.3 2193.7,444.3 2194.7,447.5 2195.8,450.7 2196.9,454.1 2198,457.5 2198.3,511 2199.6,575.2 2201.5,649.5 2202.1,663.5 2203,669.5 2203.8,671.5 2204.6,669.5 2205.5,663.5 2206.1,649.5 2208,575.2 2209.3,511 2209.6,457.5 2210.7,454.1 2211.8,450.7 2212.9,447.5 2214,444.3 2215.1,441.3 2216.2,438.4 2217.3,435.7 2218.4,433.5 2219.5,435.7 2220.6,438.4 2221.7,441.3 2222.7,444.3 2223.8,447.5 2224.9,450.7 2226,454.1 2227.1,457.5 2227.4,525.1 2228.7,606.3 2230.6,706 2231.2,720 2232.1,726 2232.9,728 2233.7,726 2234.6,720 2235.2,706 2237.1,606.3 2238.4,525.1 2238.7,457.5 2239.8,454.1 2240.9,450.7 2242,447.5 2243.1,444.3 2244.2,441.3 2245.3,438.4 2246.4,435.7 2247.5,433.5 2248.6,435.7 2249.7,438.4 2250.8,441.3 2251.8,444.3 2252.9,447.5 2254,450.7 2255.1,454.1 2256.2,457.5 2256.5,519 2257.8,592.8 2259.7,681.5 2260.3,695.5 2261.2,701.5 2262,703.5 2262.8,701.5 2263.7,695.5 2264.3,681.5 2266.2,592.8 2267.5,519 2267.8,457.5 2268.9,454.1 2270,450.7 2271.1,447.5 2272.2,444.3 2273.3,441.3 2274.4,438.4 2275.5,435.7 2276.6,433.5 2277.7,435.7 2278.8,438.4 2279.8,441.3 2280.9,444.3 2282,447.5 2283.1,450.7 2284.2,454.1 2285.3,457.5 2285.6,511 2286.9,575.2 2288.8,649.5 2289.4,663.5 2290.3,669.5 2291.1,671.5 2291.9,669.5 2292.8,663.5 2293.4,649.5 2295.3,575.2 2296.6,511 2296.9,457.5 2298,454.1 2299.1,450.7 2300.2,447.5 2301.3,444.3 2302.4,441.3 2303.5,438.4 2304.6,435.7 2305.7,433.5 2306.8,435.7 2307.9,438.4 2308.9,441.3 2310,444.3 2311.1,447.5 2312.2,450.7 2313.3,454.1 2314.4,457.5 2314.7,511 2316,575.2 2317.9,649.5 2318.5,663.5 2319.4,669.5 2320.2,671.5 2321,669.5 2321.9,663.5 2322.5,649.5 2324.4,575.2 2325.7,511 2326,457.5 2327.1,454.1 2328.2,450.7 2329.3,447.5 2330.4,444.3 2331.5,441.3 2332.6,438.4 2333.7,435.7 2334.8,433.5 2335.9,435.7 2336.9,438.4 2338,441.3 2339.1,444.3 2340.2,447.5 2341.3,450.7 2342.4,454.1 2343.5,457.5 2343.8,525.1 2345.1,606.3 2347,706 2347.6,720 2348.5,726 2349.3,728 2350.1,726 2351,720 2351.6,706 2353.5,606.3 2354.8,525.1 2355.1,457.5 2356.2,454.1 2357.3,450.7 2358.4,447.5 2359.5,444.3 2360.6,441.3 2361.7,438.4 2362.8,435.7 2363.9,433.5 2364.9,435.7 2366,438.4 2367.1,441.3 2368.2,444.3 2369.3,447.5 2370.4,450.7 2371.5,454.1 2372.6,457.5 2372.9,519 2374.2,592.8 2376.1,681.5 2376.7,695.5 2377.6,701.5 2378.4,703.5 2379.2,701.5 2380.1,695.5 2380.7,681.5 2382.6,592.8 2383.9,519 2384.2,457.5 2385.3,454.1 2386.4,450.7 2387.5,447.5 2388.6,444.3 2389.7,441.3 2390.8,438.4 2391.9,435.7 2393,433.5 2394,435.7 2395.1,438.4 2396.2,441.3 2397.3,444.3 2398.4,447.5 2399.5,450.7 2400.6,454.1 2401.7,457.5 2402,511 2403.3,575.2 2405.2,649.5 2405.8,663.5 2406.7,669.5 2407.5,671.5 2408.3,669.5 2409.2,663.5 2409.8,649.5 2411.7,575.2 2413,511 2413.3,457.5 2414.4,454.1 2415.5,450.7 2416.6,447.5 2417.7,444.3 2418.8,441.3 2419.9,438.4 2421,435.7 2422,433.5 2423.1,435.7 2424.2,438.4 2425.3,441.3 2426.4,444.3 2427.5,447.5 2428.6,450.7 2429.7,454.1 2430.8,457.5 2431.1,511 2432.4,575.2 2434.3,649.5 2434.9,663.5 2435.8,669.5 2436.6,671.5 2437.4,669.5 2438.3,663.5 2438.9,649.5 2440.8,575.2 2442.1,511 2442.4,457.5 2443.5,454.1 2444.6,450.7 2445.7,447.5 2446.8,444.3 2447.9,441.3 2449,438.4 2450.1,435.7 2451.1,433.5 2452.2,435.7 2453.3,438.4 2454.4,441.3 2455.5,444.3 2456.6,447.5 2457.7,450.7 2458.8,454.1 2459.9,457.5 2460.2,525.1 2461.5,606.3 2463.4,706 2464,720 2464.9,726 2465.7,728 2466.5,726 2467.4,720 2468,706 2469.9,606.3 2471.2,525.1 2471.5,457.5 2472.6,454.1 2473.7,450.7 2474.8,447.5 2475.9,444.3 2477,441.3 2478.1,438.4 2479.1,435.7 2480.2,433.5 2481.3,435.7 2482.4,438.4 2483.5,441.3 2484.6,444.3 2485.7,447.5 2486.8,450.7 2487.9,454.1 2489,457.5 2489.3,519 2490.6,592.8 2492.5,681.5 2493.1,695.5 2494,701.5 2494.8,703.5 2495.6,701.5 2496.5,695.5 2497.1,681.5 2499,592.8 2500.3,519 2500.6,457.5 2501.7,454.1 2502.8,450.7 2503.9,447.5 2505,444.3 2506.1,441.3 2507.1,438.4 2508.2,435.7 2509.3,433.5 2510.4,435.7 2511.5,438.4 2512.6,441.3 2513.7,444.3 2514.8,447.5 2515.9,450.7 2517,454.1 2518.1,457.5 2518.4,511 2519.7,575.2 2521.6,649.5 2522.2,663.5 2523.1,669.5 2523.9,671.5 2524.7,669.5 2525.6,663.5 2526.2,649.5 2528.1,575.2 2529.4,511 2529.7,457.5 2530.8,454.1 2531.9,450.7 2533,447.5 2534.1,444.3 2535.2,441.3 2536.2,438.4 2537.3,435.7 2538.4,433.5 2539.5,435.7 2540.6,438.4 2541.7,441.3 2542.8,444.3 2543.9,447.5 2545,450.7 2546.1,454.1 2547.2,457.5 2547.5,511 2548.8,575.2 2550.7,649.5 2551.3,663.5 2552.2,669.5 2553,671.5 2553.8,669.5 2554.7,663.5 2555.3,649.5 2557.2,575.2 2558.5,511 2558.8,457.5 2559.9,454.1 2561,450.7 2562.1,447.5 2563.2,444.3 2564.2,441.3 2565.3,438.4 2566.4,435.7 2567.5,433.5 2568.6,435.7 2569.7,438.4 2570.8,441.3 2571.9,444.3 2573,447.5 2574.1,450.7 2575.2,454.1 2576.3,457.5 2576.6,525.1 2577.9,606.3 2579.8,706 2580.4,720 2581.3,726 2582.1,728 2582.9,726 2583.8,720 2584.4,706 2586.3,606.3 2587.6,525.1 2587.9,457.5 2589,454.1 2590.1,450.7 2591.2,447.5 2592.2,444.3 2593.3,441.3 2594.4,438.4 2595.5,435.7 2596.6,433.5 2597.7,435.7 2598.8,438.4 2599.9,441.3 2601,444.3 2602.1,447.5 2603.2,450.7 2604.3,454.1 2605.4,457.5 2605.7,519 2607,592.8 2608.9,681.5 2609.5,695.5 2610.4,701.5 2611.2,703.5 2612,701.5 2612.9,695.5 2613.5,681.5 2615.4,592.8 2616.7,519 2617,457.5 2618.1,454.1 2619.2,450.7 2620.3,447.5 2621.3,444.3 2622.4,441.3 2623.5,438.4 2624.6,435.7 2625.7,433.5 2626.8,435.7 2627.9,438.4 2629,441.3 2630.1,444.3 2631.2,447.5 2632.3,450.7 2633.4,454.1 2634.5,457.5 2634.8,511 2636.1,575.2 2638,649.5 2638.6,663.5 2639.5,669.5 2640.3,671.5 2641.1,669.5 2642,663.5 2642.6,649.5 2644.5,575.2 2645.8,511 2646.1,457.5 2647.2,454.1 2648.3,450.7 2649.3,447.5 2650.4,444.3 2651.5,441.3 2652.6,438.4 2653.7,435.7 2654.8,433.5 2655.9,435.7 2657,438.4 2658.1,441.3 2659.2,444.3 2660.3,447.5 2661.4,450.7 2662.5,454.1 2663.6,457.5 2663.9,511 2665.2,575.2 2667.1,649.5 2667.7,663.5 2668.6,669.5 2669.4,671.5 2670.2,669.5 2671.1,663.5 2671.7,649.5 2673.6,575.2 2674.9,511 2675.2,457.5 2676.3,454.1 2677.4,450.7 2678.4,447.5 2679.5,444.3 2680.6,441.3 2681.7,438.4 2682.8,435.7 2683.9,433.5 2685,435.7 2686.1,438.4 2687.2,441.3 2688.3,444.3 2689.4,447.5 2690.5,450.7 2691.6,454.1 2692.7,457.5 2693,525.1 2694.3,606.3 2696.2,706 2696.8,720 2697.7,726 2698.5,728 2699.3,726 2700.2,720 2700.8,706 2702.7,606.3 2704,525.1 2704.3,457.5 2705.4,454.1 2706.4,450.7 2707.5,447.5 2708.6,444.3 2709.7,441.3 2710.8,438.4 2711.9,435.7 2713,433.5 2714.1,435.7 2715.2,438.4 2716.3,441.3 2717.4,444.3 2718.5,447.5 2719.6,450.7 2720.7,454.1 2721.8,457.5 2722.1,519 2723.4,592.8 2725.3,681.5 2725.9,695.5 2726.8,701.5 2727.6,703.5 2728.4,701.5 2729.3,695.5 2729.9,681.5 2731.8,592.8 2733.1,519 2733.4,457.5 2734.4,454.1 2735.5,450.7 2736.6,447.5 2737.7,444.3 2738.8,441.3 2739.9,438.4 2741,435.7 2742.1,433.5 2743.2,435.7 2744.3,438.4 2745.4,441.3 2746.5,444.3 2747.6,447.5 2748.7,450.7 2749.8,454.1 2750.9,457.5 2751.2,511 2752.5,575.2 2754.4,649.5 2755,663.5 2755.9,669.5 2756.7,671.5 2757.5,669.5 2758.4,663.5 2759,649.5 2760.9,575.2 2762.2,511 2762.5,457.5 2763.5,454.1 2764.6,450.7 2765.7,447.5 2766.8,444.3 2767.9,441.3 2769,438.4 2770.1,435.7 2771.2,433.5 2772.3,435.7 2773.4,438.4 2774.5,441.3 2775.6,444.3 2776.7,447.5 2777.8,450.7 2778.9,454.1 2779.9,457.5 2780.2,511 2781.5,575.2 2783.4,649.5 2784,663.5 2784.9,669.5 2785.7,671.5 2786.5,669.5 2787.4,663.5 2788,649.5 2789.9,575.2 2791.2,511 2791.5,457.5 2792.6,454.1 2793.7,450.7 2794.8,447.5 2795.9,444.3 2797,441.3 2798.1,438.4 2799.2,435.7 2800.3,433.5 2801.4,435.7 2802.5,438.4 2803.6,441.3 2804.7,444.3 2805.8,447.5 2806.9,450.7 2808,454.1 2809,457.5 2809.3,525.1 2810.6,606.3 2812.5,706 2813.1,720 2814,726 2814.8,728 2815.6,726 2816.5,720 2817.1,706 2819,606.3 2820.3,525.1 2820.6,457.5 2821.7,454.1 2822.8,450.7 2823.9,447.5 2825,444.3 2826.1,441.3 2827.2,438.4 2828.3,435.7 2829.4,433.5 2830.5,435.7 2831.6,438.4 2832.7,441.3 2833.8,444.3 2834.9,447.5 2836,450.7 2837,454.1 2838.1,457.5 2838.4,519 2839.7,592.8 2841.6,681.5 2842.2,695.5 2843.1,701.5 2843.9,703.5 2844.7,701.5 2845.6,695.5 2846.2,681.5 2848.1,592.8 2849.4,519 2849.7,457.5 2850.8,454.1 2851.9,450.7 2853,447.5 2854.1,444.3 2855.2,441.3 2856.3,438.4 2857.4,435.7 2858.5,433.5 2859.6,435.7 2860.7,438.4 2861.8,441.3 2862.9,444.3 2864,447.5 2865,450.7 2866.1,454.1 2867.2,457.5 2867.5,511 2868.8,575.2 2870.7,649.5 2871.3,663.5 2872.2,669.5 2873,671.5 2873.8,669.5 2874.7,663.5 2875.3,649.5 2877.2,575.2 2878.5,511 2878.8,457.5 2879.9,454.1 2881,450.7 2882.1,447.5 2883.2,444.3 2884.3,441.3 2885.4,438.4 2886.5,435.7 2887.6,433.5 2888.7,435.7 2889.8,438.4 2890.9,441.3 2892,444.3 2893.1,447.5 2894.1,450.7 2895.2,454.1 2896.3,457.5 2896.6,511 2897.9,575.2 2899.8,649.5 2900.4,663.5 2901.3,669.5 2902.1,671.5 2902.9,669.5 2903.8,663.5 2904.4,649.5 2906.3,575.2 2907.6,511 2907.9,457.5 2909,454.1 2910.1,450.7 2911.2,447.5 2912.3,444.3 2913.4,441.3 2914.5,438.4 2915.6,435.7 2916.7,433.5 2917.8,435.7 2918.9,438.4 2920,441.3 2921.1,444.3 2922.1,447.5 2923.2,450.7 2924.3,454.1 2925.4,457.5 2925.7,525.1 2927,606.3 2928.9,706 2929.5,720 2930.4,726 2931.2,728 2932,726 2932.9,720 2933.5,706 2935.4,606.3 2936.7,525.1 2937,457.5 2938.1,454.1 2939.2,450.7 2940.3,447.5 2941.4,444.3 2942.5,441.3 2943.6,438.4 2944.7,435.7 2945.8,433.5 2946.9,435.7 2948,438.4 2949.1,441.3 2950.1,444.3 2951.2,447.5 2952.3,450.7 2953.4,454.1 2954.5,457.5 2954.8,519 2956.1,592.8 2958,681.5 2958.6,695.5 2959.5,701.5 2960.3,703.5 2961.1,701.5 2962,695.5 2962.6,681.5 2964.5,592.8 2965.8,519 2966.1,457.5 2967.2,454.1 2968.3,450.7 2969.4,447.5 2970.5,444.3 2971.6,441.3 2972.7,438.4 2973.8,435.7 2974.9,433.5 2976,435.7 2977.1,438.4 2978.2,441.3 2979.2,444.3 2980.3,447.5 2981.4,450.7 2982.5,454.1 2983.6,457.5 2983.9,511 2985.2,575.2 2987.1,649.5 2987.7,663.5 2988.6,669.5 2989.4,671.5 2990.2,669.5 2991.1,663.5 2991.7,649.5 2993.6,575.2 2994.9,511 2995.2,457.5 2996.3,454.1 2997.4,450.7 2998.5,447.5 2999.6,444.3 3000.7,441.3 3001.8,438.4 3002.9,435.7 3004,433.5 3005.1,435.7 3006.2,438.4 3007.2,441.3 3008.3,444.3 3009.4,447.5 3010.5,450.7 3011.6,454.1 3012.7,457.5 3013,511 3014.3,575.2 3016.2,649.5 3016.8,663.5 3017.7,669.5 3018.5,671.5 3019.3,669.5 3020.2,663.5 3020.8,649.5 3022.7,575.2 3024,511 3024.3,457.5 3025.4,454.1 3026.5,450.7 3027.6,447.5 3028.7,444.3 3029.8,441.3 3030.9,438.4 3032,435.7 3033.1,433.5 3034.2,435.7 3035.3,438.4 3036.3,441.3 3037.4,444.3 3038.5,447.5 3039.6,450.7 3040.7,454.1 3041.8,457.5 3042.1,525.1 3043.4,606.3 3045.3,706 3045.9,720 3046.8,726 3047.6,728 3048.4,726 3049.3,720 3049.9,706 3051.8,606.3 3053.1,525.1 3053.4,457.5 3054.5,454.1 3055.6,450.7 3056.7,447.5 3057.8,444.3 3058.9,441.3 3060,438.4 3061.1,435.7 3062.2,433.5 3063.3,435.7 3064.3,438.4 3065.4,441.3 3066.5,444.3 3067.6,447.5 3068.7,450.7 3069.8,454.1 3070.9,457.5 3071.2,519 3072.5,592.8 3074.4,681.5 3075,695.5 3075.9,701.5 3076.7,703.5 3077.5,701.5 3078.4,695.5 3079,681.5 3080.9,592.8 3082.2,519 3082.5,457.5 3083.6,454.1 3084.7,450.7 3085.8,447.5 3086.9,444.3 3088,441.3 3089.1,438.4 3090.2,435.7 3091.3,433.5 3092.3,435.7 3093.4,438.4 3094.5,441.3 3095.6,444.3 3096.7,447.5 3097.8,450.7 3098.9,454.1 3100,457.5 3100.3,511 3101.6,575.2 3103.5,649.5 3104.1,663.5 3105,669.5 3105.8,671.5 3106.6,669.5 3107.5,663.5 3108.1,649.5 3110,575.2 3111.3,511 3111.6,457.5 3112.7,454.1 3113.8,450.7 3114.9,447.5 3116,444.3 3117.1,441.3 3118.2,438.4 3119.3,435.7 3120.4,433.5 3121.4,435.7 3122.5,438.4 3123.6,441.3 3124.7,444.3 3125.8,447.5 3126.9,450.7 3128,454.1 3129.1,457.5 3129.4,511 3130.7,575.2 3132.6,649.5 3133.2,663.5 3134.1,669.5 3134.9,671.5 3135.7,669.5 3136.6,663.5 3137.2,649.5 3139.1,575.2 3140.4,511 3140.7,457.5 3141.8,454.1 3142.9,450.7 3144,447.5 3145.1,444.3 3146.2,441.3 3147.3,438.4 3148.4,435.7 3149.4,433.5 3150.5,435.7 3151.6,438.4 3152.7,441.3 3153.8,444.3 3154.9,447.5 3156,450.7 3157.1,454.1 3158.2,457.5 3158.5,525.1 3159.8,606.3 3161.7,706 3162.3,720 3163.2,726 3164,728 3164.8,726 3165.7,720 3166.3,706 3168.2,606.3 3169.5,525.1 3169.8,457.5 3170.9,454.1 3172,450.7 3173.1,447.5 3174.2,444.3 3175.3,441.3 3176.4,438.4 3177.5,435.7 3178.5,433.5 3179.6,435.7 3180.7,438.4 3181.8,441.3 3182.9,444.3 3184,447.5 3185.1,450.7 3186.2,454.1 3187.3,457.5 3187.6,519 3188.9,592.8 3190.8,681.5 3191.4,695.5 3192.3,701.5 3193.1,703.5 3193.9,701.5 3194.8,695.5 3195.4,681.5 3197.3,592.8 3198.6,519 3198.9,457.5 3200,454.1 3201.1,450.7 3202.2,447.5 3203.3,444.3 3204.4,441.3 3205.5,438.4 3206.5,435.7 3207.6,433.5 3208.7,435.7 3209.8,438.4 3210.9,441.3 3212,444.3 3213.1,447.5 3214.2,450.7 3215.3,454.1 3216.4,457.5 3216.7,511 3218,575.2 3219.9,649.5 3220.5,663.5 3221.4,669.5 3222.2,671.5 3223,669.5 3223.9,663.5 3224.5,649.5 3226.4,575.2 3227.7,511 3228,457.5 3229.1,454.1 3230.2,450.7 3231.3,447.5 3232.4,444.3 3233.5,441.3 3234.5,438.4 3235.6,435.7 3236.7,433.5 3237.8,435.7 3238.9,438.4 3240,441.3 3241.1,444.3 3242.2,447.5 3243.3,450.7 3244.4,454.1 3245.5,457.5 3245.8,511 3247.1,575.2 3249,649.5 3249.6,663.5 3250.5,669.5 3251.3,671.5 3252.1,669.5 3253,663.5 3253.6,649.5 3255.5,575.2 3256.8,511 3257.1,457.5 3258.2,454.1 3259.3,450.7 3260.4,447.5 3261.5,444.3 3262.6,441.3 3263.6,438.4 3264.7,435.7 3265.8,433.5 3266.9,435.7 3268,438.4 3269.1,441.3 3270.2,444.3 3271.3,447.5 3272.4,450.7 3273.5,454.1 3274.6,457.5 3274.9,525.1 3276.2,606.3 3278.1,706 3278.7,720 3279.6,726 3280.4,728 3281.2,726 3282.1,720 3282.7,706 3284.6,606.3 3285.9,525.1 3286.2,457.5 3287.3,454.1 3288.4,450.7 3289.5,447.5 3290.6,444.3 3291.6,441.3 3292.7,438.4 3293.8,435.7 3294.9,433.5 3296,435.7 3297.1,438.4 3298.2,441.3 3299.3,444.3 3300.4,447.5 3301.5,450.7 3302.6,454.1 3303.7,457.5 3304,519 3305.3,592.8 3307.2,681.5 3307.8,695.5 3308.7,701.5 3309.5,703.5 3310.3,701.5 3311.2,695.5 3311.8,681.5 3313.7,592.8 3315,519 3315.3,457.5 3316.4,454.1 3317.5,450.7 3318.6,447.5 3319.7,444.3 3320.7,441.3 3321.8,438.4 3322.9,435.7 3324,433.5 3325.1,435.7 3326.2,438.4 3327.3,441.3 3328.4,444.3 3329.5,447.5 3330.6,450.7 3331.7,454.1 3332.8,457.5 3333.1,511 3334.4,575.2 3336.3,649.5 3336.9,663.5 3337.8,669.5 3338.6,671.5 3339.4,669.5 3340.3,663.5 3340.9,649.5 3342.8,575.2 3344.1,511 3344.4,457.5 3345.5,454.1 3346.6,450.7 3347.7,447.5 3348.7,444.3 3349.8,441.3 3350.9,438.4 3352,435.7 3353.1,433.5 3354.2,435.7 3355.3,438.4 3356.4,441.3 3357.5,444.3 3358.6,447.5 3359.7,450.7 3360.8,454.1 3361.9,457.5 3362.2,511 3363.5,575.2 3365.4,649.5 3366,663.5 3366.9,669.5 3367.7,671.5 3368.5,669.5 3369.4,663.5 3370,649.5 3371.9,575.2 3373.2,511 3373.5,457.5 3374.6,454.1 3375.7,450.7 3376.7,447.5 3377.8,444.3 3378.9,441.3 3380,438.4 3381.1,435.7 3382.2,433.5 3383.3,435.7 3384.4,438.4 3385.5,441.3 3386.6,444.3 3387.7,447.5 3388.8,450.7 3389.9,454.1 3391,457.5 3391.3,525.1 3392.6,606.3 3394.5,706 3395.1,720 3396,726 3396.8,728 3397.6,726 3398.5,720 3399.1,706 3401,606.3 3402.3,525.1 3402.6,457.5 3403.7,454.1 3404.8,450.7 3405.8,447.5 3406.9,444.3 3408,441.3 3409.1,438.4 3410.2,435.7 3411.3,433.5 3412.4,435.7 3413.5,438.4 3414.6,441.3 3415.7,444.3 3416.8,447.5 3417.9,450.7 3419,454.1 3420.1,457.5 3420.4,519 3421.7,592.8 3423.6,681.5 3424.2,695.5 3425.1,701.5 3425.9,703.5 3426.7,701.5 3427.6,695.5 3428.2,681.5 3430.1,592.8 3431.4,519 3431.7,457.5 3432.8,454.1 3433.8,450.7 3434.9,447.5 3436,444.3 3437.1,441.3 3438.2,438.4 3439.3,435.7 3440.4,433.5 3441.5,435.7 3442.6,438.4 3443.7,441.3 3444.8,444.3 3445.9,447.5 3447,450.7 3448.1,454.1 3449.2,457.5 3449.5,511 3450.8,575.2 3452.7,649.5 3453.3,663.5 3454.2,669.5 3455,671.5 3455.8,669.5 3456.7,663.5 3457.3,649.5 3459.2,575.2 3460.5,511 3460.8,457.5 3461.8,454.1 3462.9,450.7 3464,447.5 3465.1,444.3 3466.2,441.3 3467.3,438.4 3468.4,435.7 3469.5,433.5 3470.6,435.7 3471.7,438.4 3472.8,441.3 3473.9,444.3 3475,447.5 3476.1,450.7 3477.2,454.1 3478.3,457.5 3478.6,511 3479.9,575.2 3481.8,649.5 3482.4,663.5 3483.3,669.5 3484.1,671.5 3484.9,669.5 3485.8,663.5 3486.4,649.5 3488.3,575.2 3489.6,511 3489.9,457.5 3490.9,454.1 3492,450.7 3493.1,447.5 3494.2,444.3 3495.3,441.3 3496.4,438.4 3497.5,435.7 3498.6,433.5 3499.7,435.7 3500.8,438.4 3501.9,441.3 3503,444.3 3504.1,447.5 3505.2,450.7 3506.3,454.1 3507.3,457.5 3507.6,525.1 3508.9,606.3 3510.8,706 3511.4,720 3512.3,726 3513.1,728 3513.9,726 3514.8,720 3515.4,706 3517.3,606.3 3518.6,525.1 3518.9,457.5 3520,454.1 3521.1,450.7 3522.2,447.5 3523.3,444.3 3524.4,441.3 3525.5,438.4 3526.6,435.7 3527.7,433.5 3528.8,435.7 3529.9,438.4 3531,441.3 3532.1,444.3 3533.2,447.5 3534.3,450.7 3535.4,454.1 3536.4,457.5 3536.7,519 3538,592.8 3539.9,681.5 3540.5,695.5 3541.4,701.5 3542.2,703.5 3543,701.5 3543.9,695.5 3544.5,681.5 3546.4,592.8 3547.7,519 3548,457.5 3549.1,454.1 3550.2,450.7 3551.3,447.5 3552.4,444.3 3553.5,441.3 3554.6,438.4 3555.7,435.7 3556.8,433.5 3557.9,435.7 3559,438.4 3560.1,441.3 3561.2,444.3 3562.3,447.5 3563.4,450.7 3564.4,454.1 3565.5,457.5 3565.8,511 3567.1,575.2 3569,649.5 3569.6,663.5 3570.5,669.5 3571.3,671.5 3572.1,669.5 3573,663.5 3573.6,649.5 3575.5,575.2 3576.8,511 3577.1,457.5 3578.2,454.1 3579.3,450.7 3580.4,447.5 3581.5,444.3 3582.6,441.3 3583.7,438.4 3584.8,435.7 3585.9,433.5 3587,435.7 3588.1,438.4 3589.2,441.3 3590.3,444.3 3591.4,447.5 3592.4,450.7 3593.5,454.1 3594.6,457.5 3594.9,511 3596.2,575.2 3598.1,649.5 3598.7,663.5 3599.6,669.5 3600.4,671.5 3601.2,669.5 3602.1,663.5 3602.7,649.5 3604.6,575.2 3605.9,511 3606.2,457.5 3607.3,454.1 3608.4,450.7 3609.5,447.5 3610.6,444.3 3611.7,441.3 3612.8,438.4 3613.9,435.7 3615,433.5 3616.1,435.7 3617.2,438.4 3618.3,441.3 3619.4,444.3 3620.5,447.5 3621.5,450.7 3622.6,454.1 3623.7,457.5 3624,525.1 3625.3,606.3 3627.2,706 3627.8,720 3628.7,726 3629.5,728 3630.3,726 3631.2,720 3631.8,706 3633.7,606.3 3635,525.1 3635.3,457.5 3636.4,454.1 3637.5,450.7 3638.6,447.5 3639.7,444.3 3640.8,441.3 3641.9,438.4 3643,435.7 3644.1,433.5 3645.2,435.7 3646.3,438.4 3647.4,441.3 3648.5,444.3 3649.5,447.5 3650.6,450.7 3651.7,454.1 3652.8,457.5 3653.1,519 3654.4,592.8 3656.3,681.5 3656.9,695.5 3657.8,701.5 3658.6,703.5 3659.4,701.5 3660.3,695.5 3660.9,681.5 3662.8,592.8 3664.1,519 3664.4,457.5 3665.5,454.1 3666.6,450.7 3667.7,447.5 3668.8,444.3 3669.9,441.3 3671,438.4 3672.1,435.7 3673.2,433.5 3674.3,435.7 3675.4,438.4 3676.5,441.3 3677.5,444.3 3678.6,447.5 3679.7,450.7 3680.8,454.1 3681.9,457.5 3682.2,511 3683.5,575.2 3685.4,649.5 3686,663.5 3686.9,669.5 3687.7,671.5 3688.5,669.5"/>
<text x="1529.7" y="165" font-size="93" textLength="395.8" lengthAdjust="spacingAndGlyphs">Backlight</text>
<text x="1949" y="165" font-size="93" textLength="95" lengthAdjust="spacingAndGlyphs">@</text>
<text x="2072.2" y="165" font-size="93" textLength="241.6" lengthAdjust="spacingAndGlyphs">100%</text>
<text x="206.3" y="1499.5" font-size="64" text-anchor="middle">0</text>
<text x="903.5" y="1499.5" font-size="64" text-anchor="middle">0.05</text>
<text x="1598.2" y="1499.5" font-size="64" text-anchor="middle">0.1</text>
<text x="2298" y="1499.5" font-size="64" text-anchor="middle">0.15</text>
<text x="2992.6" y="1499.5" font-size="64" text-anchor="middle">0.2</text>
<text x="3692.2" y="1499.5" font-size="64" text-anchor="middle">0.25</text>
<text x="1711.4" y="1614.4" font-size="68" textLength="158.8" lengthAdjust="spacingAndGlyphs">Time</text>
<text x="1885.8" y="1614.4" font-size="68" textLength="297.2" lengthAdjust="spacingAndGlyphs">(seconds)</text>
<text transform="translate(172.6 1012.4) rotate(-90)" font-size="66" textLength="346.4" lengthAdjust="spacingAndGlyphs">Luminosity</text>
<g stroke="#dfdfdf" stroke-width="4.5">
<line x1="206.3" y1="2078.8" x2="3688.5" y2="2078.8"/>
<line x1="206.3" y1="2194" x2="3688.5" y2="2194"/>
<line x1="206.3" y1="2309.3" x2="3688.5" y2="2309.3"/>
<line x1="206.3" y1="2424.5" x2="3688.5" y2="2424.5"/>
<line x1="206.3" y1="2539.8" x2="3688.5" y2="2539.8"/>
<line x1="206.3" y1="2655" x2="3688.5" y2="2655"/>
<line x1="206.3" y1="2770.3" x2="3688.5" y2="2770.3"/>
<line x1="206.3" y1="2885.5" x2="3688.5" y2="2885.5"/>
<line x1="206.3" y1="3000.8" x2="3688.5" y2="3000.8"/>
<line x1="206.3" y1="3116" x2="3688.5" y2="3116"/>
</g>
<g stroke="#f0f0f0" stroke-width="7.5">
<line x1="344.9" y1="2017.8" x2="344.9" y2="3116"/>
<line x1="483.8" y1="2017.8" x2="483.8" y2="3116"/>
<line x1="622.8" y1="2017.8" x2="622.8" y2="3116"/>
<line x1="761.7" y1="2017.8" x2="761.7" y2="3116"/>
<line x1="1040.5" y1="2017.8" x2="1040.5" y2="3116"/>
<line x1="1180.4" y1="2017.8" x2="1180.4" y2="3116"/>
<line x1="1320.4" y1="2017.8" x2="1320.4" y2="3116"/>
<line x1="1460.3" y1="2017.8" x2="1460.3" y2="3116"/>
<line x1="1739.3" y1="2017.8" x2="1739.3" y2="3116"/>
<line x1="1878.4" y1="2017.8" x2="1878.4" y2="3116"/>
<line x1="2017.4" y1="2017.8" x2="2017.4" y2="3116"/>
<line x1="2156.5" y1="2017.8" x2="2156.5" y2="3116"/>
<line x1="2435" y1="2017.8" x2="2435" y2="3116"/>
<line x1="2574.3" y1="2017.8" x2="2574.3" y2="3116"/>
<line x1="2713.7" y1="2017.8" x2="2713.7" y2="3116"/>
<line x1="2853" y1="2017.8" x2="2853" y2="3116"/>
<line x1="3131.6" y1="2017.8" x2="3131.6" y2="3116"/>
<line x1="3270.9" y1="2017.8" x2="3270.9" y2="3116"/>
<line x1="3410.1" y1="2017.8" x2="3410.1" y2="3116"/>
<line x1="3549.4" y1="2017.8" x2="3549.4" y2="3116"/>
</g>
<g stroke="#d4d4d4" stroke-width="6">
<line x1="206" y1="2017.8" x2="206" y2="3116"/>
<line x1="900.6" y1="2017.8" x2="900.6" y2="3116"/>
<line x1="1600.2" y1="2017.8" x2="1600.2" y2="3116"/>
<line x1="2295.6" y1="2017.8" x2="2295.6" y2="3116"/>
<line x1="2992.4" y1="2017.8" x2="2992.4" y2="3116"/>
<line x1="3688.6" y1="2017.8" x2="3688.6" y2="3116"/>
</g>
<polyline fill="none" stroke="#3b6ac3" stroke-width="11" stroke-linejoin="round" stroke-linecap="round" points="206.3,2881.7 207,2880.4 208.3,2878.2 209.7,2876.5 211,2875.1 212.4,2874.5 213.7,2875.1 215,2876.5 216.4,2878.2 217.7,2880.4 219.1,2883 220.4,2885.9 221.8,2889 223.1,2892.5 223.4,2904.8 224.7,2919.4 224.1,2935.3 224.7,2939.3 226.1,2940.9 226.9,2941.5 227.7,2940.9 229.1,2939.3 229.7,2935.3 229.1,2919.4 230.4,2904.8 230.7,2892.5 232,2889 233.4,2885.9 234.7,2883 236.1,2880.4 237.4,2878.2 238.8,2876.5 240.1,2875.1 241.4,2874.5 242.8,2875.1 244.1,2876.5 245.5,2878.2 246.8,2880.4 248.2,2883 249.5,2885.9 250.8,2889 252.2,2892.5 252.5,2907.5 253.8,2925.5 253.2,2946.3 253.8,2950.3 255.2,2951.9 256,2952.5 256.8,2951.9 258.2,2950.3 258.8,2946.3 258.2,2925.5 259.5,2907.5 259.8,2892.5 261.1,2889 262.5,2885.9 263.8,2883 265.2,2880.4 266.5,2878.2 267.8,2876.5 269.2,2875.1 270.5,2874.5 271.9,2875.1 273.2,2876.5 274.6,2878.2 275.9,2880.4 277.2,2883 278.6,2885.9 279.9,2889 281.3,2892.5 281.6,2906.2 282.9,2922.8 282.3,2941.3 282.9,2945.3 284.3,2946.9 285.1,2947.5 285.9,2946.9 287.3,2945.3 287.9,2941.3 287.3,2922.8 288.6,2906.2 288.9,2892.5 290.2,2889 291.6,2885.9 292.9,2883 294.2,2880.4 295.6,2878.2 296.9,2876.5 298.3,2875.1 299.6,2874.5 301,2875.1 302.3,2876.5 303.6,2878.2 305,2880.4 306.3,2883 307.7,2885.9 309,2889 310.3,2892.5 310.6,2904.8 311.9,2919.4 311.3,2935.3 311.9,2939.3 313.3,2940.9 314.1,2941.5 314.9,2940.9 316.3,2939.3 316.9,2935.3 316.3,2919.4 317.6,2904.8 317.9,2892.5 319.3,2889 320.6,2885.9 322,2883 323.3,2880.4 324.7,2878.2 326,2876.5 327.3,2875.1 328.7,2874.5 330,2875.1 331.4,2876.5 332.7,2878.2 334.1,2880.4 335.4,2883 336.7,2885.9 338.1,2889 339.4,2892.5 339.7,2904.8 341,2919.4 340.4,2935.3 341,2939.3 342.4,2940.9 343.2,2941.5 344,2940.9 345.4,2939.3 346,2935.3 345.4,2919.4 346.7,2904.8 347,2892.5 348.4,2889 349.7,2885.9 351.1,2883 352.4,2880.4 353.7,2878.2 355.1,2876.5 356.4,2875.1 357.8,2874.5 359.1,2875.1 360.5,2876.5 361.8,2878.2 363.1,2880.4 364.5,2883 365.8,2885.9 367.2,2889 368.5,2892.5 368.8,2907.5 370.1,2925.5 369.5,2946.3 370.1,2950.3 371.5,2951.9 372.3,2952.5 373.1,2951.9 374.5,2950.3 375.1,2946.3 374.5,2925.5 375.8,2907.5 376.1,2892.5 377.5,2889 378.8,2885.9 380.1,2883 381.5,2880.4 382.8,2878.2 384.2,2876.5 385.5,2875.1 386.9,2874.5 388.2,2875.1 389.5,2876.5 390.9,2878.2 392.2,2880.4 393.6,2883 394.9,2885.9 396.3,2889 397.6,2892.5 397.9,2906.2 399.2,2922.8 398.6,2941.3 399.2,2945.3 400.6,2946.9 401.4,2947.5 402.2,2946.9 403.6,2945.3 404.2,2941.3 403.6,2922.8 404.9,2906.2 405.2,2892.5 406.5,2889 407.9,2885.9 409.2,2883 410.6,2880.4 411.9,2878.2 413.3,2876.5 414.6,2875.1 415.9,2874.5 417.3,2875.1 418.6,2876.5 420,2878.2 421.3,2880.4 422.7,2883 424,2885.9 425.3,2889 426.7,2892.5 427,2904.8 428.3,2919.4 427.7,2935.3 428.3,2939.3 429.7,2940.9 430.5,2941.5 431.3,2940.9 432.7,2939.3 433.3,2935.3 432.7,2919.4 434,2904.8 434.3,2892.5 435.6,2889 437,2885.9 438.3,2883 439.7,2880.4 441,2878.2 442.3,2876.5 443.7,2875.1 445,2874.5 446.4,2875.1 447.7,2876.5 449.1,2878.2 450.4,2880.4 451.7,2883 453.1,2885.9 454.4,2889 455.8,2892.5 456.1,2904.8 457.4,2919.4 456.8,2935.3 457.4,2939.3 458.8,2940.9 459.6,2941.5 460.4,2940.9 461.8,2939.3 462.4,2935.3 461.8,2919.4 463.1,2904.8 463.4,2892.5 464.7,2889 466,2885.9 467.4,2883 468.7,2880.4 470.1,2878.2 471.4,2876.5 472.8,2875.1 474.1,2874.5 475.4,2875.1 476.8,2876.5 478.1,2878.2 479.5,2880.4 480.8,2883 482.2,2885.9 483.5,2889 484.8,2892.5 485.1,2907.5 486.4,2925.5 485.8,2946.3 486.4,2950.3 487.8,2951.9 488.6,2952.5 489.4,2951.9 490.8,2950.3 491.4,2946.3 490.8,2925.5 492.1,2907.5 492.4,2892.5 493.8,2889 495.1,2885.9 496.5,2883 497.8,2880.4 499.2,2878.2 500.5,2876.5 501.8,2875.1 503.2,2874.5 504.5,2875.1 505.9,2876.5 507.2,2878.2 508.6,2880.4 509.9,2883 511.2,2885.9 512.6,2889 513.9,2892.5 514.2,2906.2 515.5,2922.8 514.9,2941.3 515.5,2945.3 516.9,2946.9 517.7,2947.5 518.5,2946.9 519.9,2945.3 520.5,2941.3 519.9,2922.8 521.2,2906.2 521.5,2892.5 522.9,2889 524.2,2885.9 525.6,2883 526.9,2880.4 528.2,2878.2 529.6,2876.5 530.9,2875.1 532.3,2874.5 533.6,2875.1 535,2876.5 536.3,2878.2 537.6,2880.4 539,2883 540.3,2885.9 541.7,2889 543,2892.5 543.3,2904.8 544.6,2919.4 544,2935.3 544.6,2939.3 546,2940.9 546.8,2941.5 547.6,2940.9 549,2939.3 549.6,2935.3 549,2919.4 550.3,2904.8 550.6,2892.5 552,2889 553.3,2885.9 554.6,2883 556,2880.4 557.3,2878.2 558.7,2876.5 560,2875.1 561.4,2874.5 562.7,2875.1 564,2876.5 565.4,2878.2 566.7,2880.4 568.1,2883 569.4,2885.9 570.8,2889 572.1,2892.5 572.4,2904.8 573.7,2919.4 573.1,2935.3 573.7,2939.3 575.1,2940.9 575.9,2941.5 576.7,2940.9 578.1,2939.3 578.7,2935.3 578.1,2919.4 579.4,2904.8 579.7,2892.5 581,2889 582.4,2885.9 583.7,2883 585.1,2880.4 586.4,2878.2 587.8,2876.5 589.1,2875.1 590.4,2874.5 591.8,2875.1 593.1,2876.5 594.5,2878.2 595.8,2880.4 597.2,2883 598.5,2885.9 599.8,2889 601.2,2892.5 601.5,2907.5 602.8,2925.5 602.2,2946.3 602.8,2950.3 604.2,2951.9 605,2952.5 605.8,2951.9 607.2,2950.3 607.8,2946.3 607.2,2925.5 608.5,2907.5 608.8,2892.5 610.1,2889 611.5,2885.9 612.8,2883 614.1,2880.4 615.5,2878.2 616.8,2876.5 618.2,2875.1 619.5,2874.5 620.9,2875.1 622.2,2876.5 623.5,2878.2 624.9,2880.4 626.2,2883 627.6,2885.9 628.9,2889 630.3,2892.5 630.6,2906.2 631.9,2922.8 631.3,2941.3 631.9,2945.3 633.3,2946.9 634.1,2947.5 634.9,2946.9 636.3,2945.3 636.9,2941.3 636.3,2922.8 637.6,2906.2 637.9,2892.5 639.2,2889 640.5,2885.9 641.9,2883 643.2,2880.4 644.6,2878.2 645.9,2876.5 647.3,2875.1 648.6,2874.5 649.9,2875.1 651.3,2876.5 652.6,2878.2 654,2880.4 655.3,2883 656.7,2885.9 658,2889 659.3,2892.5 659.6,2904.8 660.9,2919.4 660.3,2935.3 660.9,2939.3 662.3,2940.9 663.1,2941.5 663.9,2940.9 665.3,2939.3 665.9,2935.3 665.3,2919.4 666.6,2904.8 666.9,2892.5 668.3,2889 669.6,2885.9 671,2883 672.3,2880.4 673.7,2878.2 675,2876.5 676.3,2875.1 677.7,2874.5 679,2875.1 680.4,2876.5 681.7,2878.2 683.1,2880.4 684.4,2883 685.7,2885.9 687.1,2889 688.4,2892.5 688.7,2904.8 690,2919.4 689.4,2935.3 690,2939.3 691.4,2940.9 692.2,2941.5 693,2940.9 694.4,2939.3 695,2935.3 694.4,2919.4 695.7,2904.8 696,2892.5 697.4,2889 698.7,2885.9 700.1,2883 701.4,2880.4 702.7,2878.2 704.1,2876.5 705.4,2875.1 706.8,2874.5 708.1,2875.1 709.5,2876.5 710.8,2878.2 712.1,2880.4 713.5,2883 714.8,2885.9 716.2,2889 717.5,2892.5 717.8,2907.5 719.1,2925.5 718.5,2946.3 719.1,2950.3 720.5,2951.9 721.3,2952.5 722.1,2951.9 723.5,2950.3 724.1,2946.3 723.5,2925.5 724.8,2907.5 725.1,2892.5 726.5,2889 727.8,2885.9 729.1,2883 730.5,2880.4 731.8,2878.2 733.2,2876.5 734.5,2875.1 735.9,2874.5 737.2,2875.1 738.5,2876.5 739.9,2878.2 741.2,2880.4 742.6,2883 743.9,2885.9 745.3,2889 746.6,2892.5 746.9,2906.2 748.2,2922.8 747.6,2941.3 748.2,2945.3 749.6,2946.9 750.4,2947.5 751.2,2946.9 752.6,2945.3 753.2,2941.3 752.6,2922.8 753.9,2906.2 754.2,2892.5 755.5,2889 756.9,2885.9 758.2,2883 759.6,2880.4 760.9,2878.2 762.3,2876.5 763.6,2875.1 764.9,2874.5 766.3,2875.1 767.6,2876.5 769,2878.2 770.3,2880.4 771.6,2883 773,2885.9 774.3,2889 775.7,2892.5 776,2904.8 777.3,2919.4 776.7,2935.3 777.3,2939.3 778.7,2940.9 779.5,2941.5 780.3,2940.9 781.7,2939.3 782.3,2935.3 781.7,2919.4 783,2904.8 783.3,2892.5 784.6,2889 786,2885.9 787.3,2883 788.6,2880.4 790,2878.2 791.3,2876.5 792.7,2875.1 794,2874.5 795.4,2875.1 796.7,2876.5 798,2878.2 799.4,2880.4 800.7,2883 802.1,2885.9 803.4,2889 804.8,2892.5 805.1,2904.8 806.4,2919.4 805.8,2935.3 806.4,2939.3 807.8,2940.9 808.6,2941.5 809.4,2940.9 810.8,2939.3 811.4,2935.3 810.8,2919.4 812.1,2904.8 812.4,2892.5 813.7,2889 815,2885.9 816.4,2883 817.7,2880.4 819.1,2878.2 820.4,2876.5 821.8,2875.1 823.1,2874.5 824.4,2875.1 825.8,2876.5 827.1,2878.2 828.5,2880.4 829.8,2883 831.2,2885.9 832.5,2889 833.8,2892.5 834.1,2907.5 835.4,2925.5 834.8,2946.3 835.4,2950.3 836.8,2951.9 837.6,2952.5 838.4,2951.9 839.8,2950.3 840.4,2946.3 839.8,2925.5 841.1,2907.5 841.4,2892.5 842.8,2889 844.1,2885.9 845.5,2883 846.8,2880.4 848.2,2878.2 849.5,2876.5 850.8,2875.1 852.2,2874.5 853.5,2875.1 854.9,2876.5 856.2,2878.2 857.6,2880.4 858.9,2883 860.2,2885.9 861.6,2889 862.9,2892.5 863.2,2906.2 864.5,2922.8 863.9,2941.3 864.5,2945.3 865.9,2946.9 866.7,2947.5 867.5,2946.9 868.9,2945.3 869.5,2941.3 868.9,2922.8 870.2,2906.2 870.5,2892.5 871.9,2889 873.2,2885.9 874.6,2883 875.9,2880.4 877.2,2878.2 878.6,2876.5 879.9,2875.1 881.3,2874.5 882.6,2875.1 884,2876.5 885.3,2878.2 886.6,2880.4 888,2883 889.3,2885.9 890.7,2889 892,2892.5 892.3,2904.8 893.6,2919.4 893,2935.3 893.6,2939.3 895,2940.9 895.8,2941.5 896.6,2940.9 898,2939.3 898.6,2935.3 898,2919.4 899.3,2904.8 899.6,2892.5 901,2889 902.3,2885.9 903.6,2883 905,2880.4 906.3,2878.2 907.7,2876.5 909,2875.1 910.4,2874.5 911.7,2875.1 913,2876.5 914.4,2878.2 915.7,2880.4 917.1,2883 918.4,2885.9 919.7,2889 921.1,2892.5 921.4,2904.8 922.7,2919.4 922.1,2935.3 922.7,2939.3 924.1,2940.9 924.9,2941.5 925.7,2940.9 927.1,2939.3 927.7,2935.3 927.1,2919.4 928.4,2904.8 928.7,2892.5 930,2889 931.4,2885.9 932.7,2883 934.1,2880.4 935.4,2878.2 936.7,2876.5 938.1,2875.1 939.4,2874.5 940.8,2875.1 942.1,2876.5 943.5,2878.2 944.8,2880.4 946.1,2883 947.5,2885.9 948.8,2889 950.2,2892.5 950.5,2907.5 951.8,2925.5 951.2,2946.3 951.8,2950.3 953.2,2951.9 954,2952.5 954.8,2951.9 956.2,2950.3 956.8,2946.3 956.2,2925.5 957.5,2907.5 957.8,2892.5 959.1,2889 960.5,2885.9 961.8,2883 963.1,2880.4 964.5,2878.2 965.8,2876.5 967.2,2875.1 968.5,2874.5 969.9,2875.1 971.2,2876.5 972.5,2878.2 973.9,2880.4 975.2,2883 976.6,2885.9 977.9,2889 979.3,2892.5 979.6,2906.2 980.9,2922.8 980.3,2941.3 980.9,2945.3 982.3,2946.9 983.1,2947.5 983.9,2946.9 985.3,2945.3 985.9,2941.3 985.3,2922.8 986.6,2906.2 986.9,2892.5 988.2,2889 989.5,2885.9 990.9,2883 992.2,2880.4 993.6,2878.2 994.9,2876.5 996.3,2875.1 997.6,2874.5 998.9,2875.1 1000.3,2876.5 1001.6,2878.2 1003,2880.4 1004.3,2883 1005.7,2885.9 1007,2889 1008.3,2892.5 1008.6,2904.8 1009.9,2919.4 1009.3,2935.3 1009.9,2939.3 1011.3,2940.9 1012.1,2941.5 1012.9,2940.9 1014.3,2939.3 1014.9,2935.3 1014.3,2919.4 1015.6,2904.8 1015.9,2892.5 1017.3,2889 1018.6,2885.9 1020,2883 1021.3,2880.4 1022.7,2878.2 1024,2876.5 1025.3,2875.1 1026.7,2874.5 1028,2875.1 1029.4,2876.5 1030.7,2878.2 1032.1,2880.4 1033.4,2883 1034.7,2885.9 1036.1,2889 1037.4,2892.5 1037.7,2904.8 1039,2919.4 1038.4,2935.3 1039,2939.3 1040.4,2940.9 1041.2,2941.5 1042,2940.9 1043.4,2939.3 1044,2935.3 1043.4,2919.4 1044.7,2904.8 1045,2892.5 1046.4,2889 1047.7,2885.9 1049.1,2883 1050.4,2880.4 1051.7,2878.2 1053.1,2876.5 1054.4,2875.1 1055.8,2874.5 1057.1,2875.1 1058.5,2876.5 1059.8,2878.2 1061.1,2880.4 1062.5,2883 1063.8,2885.9 1065.2,2889 1066.5,2892.5 1066.8,2907.5 1068.1,2925.5 1067.5,2946.3 1068.1,2950.3 1069.5,2951.9 1070.3,2952.5 1071.1,2951.9 1072.5,2950.3 1073.1,2946.3 1072.5,2925.5 1073.8,2907.5 1074.1,2892.5 1075.4,2889 1076.8,2885.9 1078.1,2883 1079.5,2880.4 1080.8,2878.2 1082.2,2876.5 1083.5,2875.1 1084.8,2874.5 1086.2,2875.1 1087.5,2876.5 1088.9,2878.2 1090.2,2880.4 1091.6,2883 1092.9,2885.9 1094.2,2889 1095.6,2892.5 1095.9,2906.2 1097.2,2922.8 1096.6,2941.3 1097.2,2945.3 1098.6,2946.9 1099.4,2947.5 1100.2,2946.9 1101.6,2945.3 1102.2,2941.3 1101.6,2922.8 1102.9,2906.2 1103.2,2892.5 1104.5,2889 1105.9,2885.9 1107.2,2883 1108.6,2880.4 1109.9,2878.2 1111.2,2876.5 1112.6,2875.1 1113.9,2874.5 1115.3,2875.1 1116.6,2876.5 1118,2878.2 1119.3,2880.4 1120.6,2883 1122,2885.9 1123.3,2889 1124.7,2892.5 1125,2904.8 1126.3,2919.4 1125.7,2935.3 1126.3,2939.3 1127.7,2940.9 1128.5,2941.5 1129.3,2940.9 1130.7,2939.3 1131.3,2935.3 1130.7,2919.4 1132,2904.8 1132.3,2892.5 1133.6,2889 1135,2885.9 1136.3,2883 1137.6,2880.4 1139,2878.2 1140.3,2876.5 1141.7,2875.1 1143,2874.5 1144.4,2875.1 1145.7,2876.5 1147,2878.2 1148.4,2880.4 1149.7,2883 1151.1,2885.9 1152.4,2889 1153.8,2892.5 1154.1,2904.8 1155.4,2919.4 1154.8,2935.3 1155.4,2939.3 1156.8,2940.9 1157.6,2941.5 1158.4,2940.9 1159.8,2939.3 1160.4,2935.3 1159.8,2919.4 1161.1,2904.8 1161.4,2892.5 1162.7,2889 1164,2885.9 1165.4,2883 1166.7,2880.4 1168.1,2878.2 1169.4,2876.5 1170.8,2875.1 1172.1,2874.5 1173.4,2875.1 1174.8,2876.5 1176.1,2878.2 1177.5,2880.4 1178.8,2883 1180.2,2885.9 1181.5,2889 1182.8,2892.5 1183.1,2907.5 1184.4,2925.5 1183.8,2946.3 1184.4,2950.3 1185.8,2951.9 1186.6,2952.5 1187.4,2951.9 1188.8,2950.3 1189.4,2946.3 1188.8,2925.5 1190.1,2907.5 1190.4,2892.5 1191.8,2889 1193.1,2885.9 1194.5,2883 1195.8,2880.4 1197.2,2878.2 1198.5,2876.5 1199.8,2875.1 1201.2,2874.5 1202.5,2875.1 1203.9,2876.5 1205.2,2878.2 1206.6,2880.4 1207.9,2883 1209.2,2885.9 1210.6,2889 1211.9,2892.5 1212.2,2906.2 1213.5,2922.8 1212.9,2941.3 1213.5,2945.3 1214.9,2946.9 1215.7,2947.5 1216.5,2946.9 1217.9,2945.3 1218.5,2941.3 1217.9,2922.8 1219.2,2906.2 1219.5,2892.5 1220.9,2889 1222.2,2885.9 1223.6,2883 1224.9,2880.4 1226.2,2878.2 1227.6,2876.5 1228.9,2875.1 1230.3,2874.5 1231.6,2875.1 1232.9,2876.5 1234.3,2878.2 1235.6,2880.4 1237,2883 1238.3,2885.9 1239.7,2889 1241,2892.5 1241.3,2904.8 1242.6,2919.4 1242,2935.3 1242.6,2939.3 1244,2940.9 1244.8,2941.5 1245.6,2940.9 1247,2939.3 1247.6,2935.3 1247,2919.4 1248.3,2904.8 1248.6,2892.5 1249.9,2889 1251.3,2885.9 1252.6,2883 1254,2880.4 1255.3,2878.2 1256.7,2876.5 1258,2875.1 1259.3,2874.5 1260.7,2875.1 1262,2876.5 1263.4,2878.2 1264.7,2880.4 1266.1,2883 1267.4,2885.9 1268.7,2889 1270.1,2892.5 1270.4,2904.8 1271.7,2919.4 1271.1,2935.3 1271.7,2939.3 1273.1,2940.9 1273.9,2941.5 1274.7,2940.9 1276.1,2939.3 1276.7,2935.3 1276.1,2919.4 1277.4,2904.8 1277.7,2892.5 1279,2889 1280.4,2885.9 1281.7,2883 1283.1,2880.4 1284.4,2878.2 1285.7,2876.5 1287.1,2875.1 1288.4,2874.5 1289.8,2875.1 1291.1,2876.5 1292.5,2878.2 1293.8,2880.4 1295.1,2883 1296.5,2885.9 1297.8,2889 1299.2,2892.5 1299.5,2907.5 1300.8,2925.5 1300.2,2946.3 1300.8,2950.3 1302.2,2951.9 1303,2952.5 1303.8,2951.9 1305.2,2950.3 1305.8,2946.3 1305.2,2925.5 1306.5,2907.5 1306.8,2892.5 1308.1,2889 1309.5,2885.9 1310.8,2883 1312.1,2880.4 1313.5,2878.2 1314.8,2876.5 1316.2,2875.1 1317.5,2874.5 1318.9,2875.1 1320.2,2876.5 1321.5,2878.2 1322.9,2880.4 1324.2,2883 1325.6,2885.9 1326.9,2889 1328.3,2892.5 1328.6,2906.2 1329.9,2922.8 1329.3,2941.3 1329.9,2945.3 1331.3,2946.9 1332.1,2947.5 1332.9,2946.9 1334.3,2945.3 1334.9,2941.3 1334.3,2922.8 1335.6,2906.2 1335.9,2892.5 1337.2,2889 1338.5,2885.9 1339.9,2883 1341.2,2880.4 1342.6,2878.2 1343.9,2876.5 1345.3,2875.1 1346.6,2874.5 1347.9,2875.1 1349.3,2876.5 1350.6,2878.2 1352,2880.4 1353.3,2883 1354.7,2885.9 1356,2889 1357.3,2892.5 1357.6,2904.8 1358.9,2919.4 1358.3,2935.3 1358.9,2939.3 1360.3,2940.9 1361.1,2941.5 1361.9,2940.9 1363.3,2939.3 1363.9,2935.3 1363.3,2919.4 1364.6,2904.8 1364.9,2892.5 1366.3,2889 1367.6,2885.9 1369,2883 1370.3,2880.4 1371.7,2878.2 1373,2876.5 1374.3,2875.1 1375.7,2874.5 1377,2875.1 1378.4,2876.5 1379.7,2878.2 1381,2880.4 1382.4,2883 1383.7,2885.9 1385.1,2889 1386.4,2892.5 1386.7,2904.8 1388,2919.4 1387.4,2935.3 1388,2939.3 1389.4,2940.9 1390.2,2941.5 1391,2940.9 1392.4,2939.3 1393,2935.3 1392.4,2919.4 1393.7,2904.8 1394,2892.5 1395.4,2889 1396.7,2885.9 1398,2883 1399.4,2880.4 1400.7,2878.2 1402.1,2876.5 1403.4,2875.1 1404.8,2874.5 1406.1,2875.1 1407.4,2876.5 1408.8,2878.2 1410.1,2880.4 1411.5,2883 1412.8,2885.9 1414.2,2889 1415.5,2892.5 1415.8,2907.5 1417.1,2925.5 1416.5,2946.3 1417.1,2950.3 1418.5,2951.9 1419.3,2952.5 1420.1,2951.9 1421.5,2950.3 1422.1,2946.3 1421.5,2925.5 1422.8,2907.5 1423.1,2892.5 1424.4,2889 1425.8,2885.9 1427.1,2883 1428.5,2880.4 1429.8,2878.2 1431.2,2876.5 1432.5,2875.1 1433.8,2874.5 1435.2,2875.1 1436.5,2876.5 1437.9,2878.2 1439.2,2880.4 1440.6,2883 1441.9,2885.9 1443.2,2889 1444.6,2892.5 1444.9,2906.2 1446.2,2922.8 1445.6,2941.3 1446.2,2945.3 1447.6,2946.9 1448.4,2947.5 1449.2,2946.9 1450.6,2945.3 1451.2,2941.3 1450.6,2922.8 1451.9,2906.2 1452.2,2892.5 1453.5,2889 1454.9,2885.9 1456.2,2883 1457.6,2880.4 1458.9,2878.2 1460.2,2876.5 1461.6,2875.1 1462.9,2874.5 1464.3,2875.1 1465.6,2876.5 1467,2878.2 1468.3,2880.4 1469.6,2883 1471,2885.9 1472.3,2889 1473.7,2892.5 1474,2904.8 1475.3,2919.4 1474.7,2935.3 1475.3,2939.3 1476.7,2940.9 1477.5,2941.5 1478.3,2940.9 1479.7,2939.3 1480.3,2935.3 1479.7,2919.4 1481,2904.8 1481.3,2892.5 1482.6,2889 1484,2885.9 1485.3,2883 1486.6,2880.4 1488,2878.2 1489.3,2876.5 1490.7,2875.1 1492,2874.5 1493.4,2875.1 1494.7,2876.5 1496,2878.2 1497.4,2880.4 1498.7,2883 1500.1,2885.9 1501.4,2889 1502.8,2892.5 1503.1,2904.8 1504.4,2919.4 1503.8,2935.3 1504.4,2939.3 1505.8,2940.9 1506.6,2941.5 1507.4,2940.9 1508.8,2939.3 1509.4,2935.3 1508.8,2919.4 1510.1,2904.8 1510.4,2892.5 1511.7,2889 1513,2885.9 1514.4,2883 1515.7,2880.4 1517.1,2878.2 1518.4,2876.5 1519.8,2875.1 1521.1,2874.5 1522.4,2875.1 1523.8,2876.5 1525.1,2878.2 1526.5,2880.4 1527.8,2883 1529.1,2885.9 1530.5,2889 1531.8,2892.5 1532.1,2907.5 1533.4,2925.5 1532.8,2946.3 1533.4,2950.3 1534.8,2951.9 1535.6,2952.5 1536.4,2951.9 1537.8,2950.3 1538.4,2946.3 1537.8,2925.5 1539.1,2907.5 1539.4,2892.5 1540.8,2889 1542.1,2885.9 1543.5,2883 1544.8,2880.4 1546.1,2878.2 1547.5,2876.5 1548.8,2875.1 1550.2,2874.5 1551.5,2875.1 1552.9,2876.5 1554.2,2878.2 1555.5,2880.4 1556.9,2883 1558.2,2885.9 1559.6,2889 1560.9,2892.5 1561.2,2906.2 1562.5,2922.8 1561.9,2941.3 1562.5,2945.3 1563.9,2946.9 1564.7,2947.5 1565.5,2946.9 1566.9,2945.3 1567.5,2941.3 1566.9,2922.8 1568.2,2906.2 1568.5,2892.5 1569.9,2889 1571.2,2885.9 1572.5,2883 1573.9,2880.4 1575.2,2878.2 1576.6,2876.5 1577.9,2875.1 1579.3,2874.5 1580.6,2875.1 1581.9,2876.5 1583.3,2878.2 1584.6,2880.4 1586,2883 1587.3,2885.9 1588.7,2889 1590,2892.5 1590.3,2904.8 1591.6,2919.4 1591,2935.3 1591.6,2939.3 1593,2940.9 1593.8,2941.5 1594.6,2940.9 1596,2939.3 1596.6,2935.3 1596,2919.4 1597.3,2904.8 1597.6,2892.5 1598.9,2889 1600.3,2885.9 1601.6,2883 1603,2880.4 1604.3,2878.2 1605.7,2876.5 1607,2875.1 1608.3,2874.5 1609.7,2875.1 1611,2876.5 1612.4,2878.2 1613.7,2880.4 1615.1,2883 1616.4,2885.9 1617.7,2889 1619.1,2892.5 1619.4,2904.8 1620.7,2919.4 1620.1,2935.3 1620.7,2939.3 1622.1,2940.9 1622.9,2941.5 1623.7,2940.9 1625.1,2939.3 1625.7,2935.3 1625.1,2919.4 1626.4,2904.8 1626.7,2892.5 1628,2889 1629.4,2885.9 1630.7,2883 1632.1,2880.4 1633.4,2878.2 1634.7,2876.5 1636.1,2875.1 1637.4,2874.5 1638.8,2875.1 1640.1,2876.5 1641.5,2878.2 1642.8,2880.4 1644.1,2883 1645.5,2885.9 1646.8,2889 1648.2,2892.5 1648.5,2907.5 1649.8,2925.5 1649.2,2946.3 1649.8,2950.3 1651.2,2951.9 1652,2952.5 1652.8,2951.9 1654.2,2950.3 1654.8,2946.3 1654.2,2925.5 1655.5,2907.5 1655.8,2892.5 1657.1,2889 1658.5,2885.9 1659.8,2883 1661.1,2880.4 1662.5,2878.2 1663.8,2876.5 1665.2,2875.1 1666.5,2874.5 1667.9,2875.1 1669.2,2876.5 1670.5,2878.2 1671.9,2880.4 1673.2,2883 1674.6,2885.9 1675.9,2889 1677.3,2892.5 1677.5,2906.2 1678.8,2922.8 1678.2,2941.3 1678.8,2945.3 1680.2,2946.9 1681,2947.5 1681.8,2946.9 1683.2,2945.3 1683.8,2941.3 1683.2,2922.8 1684.5,2906.2 1684.8,2892.5 1686.2,2889 1687.5,2885.9 1688.9,2883 1690.2,2880.4 1691.6,2878.2 1692.9,2876.5 1694.2,2875.1 1695.6,2874.5 1696.9,2875.1 1698.3,2876.5 1699.6,2878.2 1701,2880.4 1702.3,2883 1703.6,2885.9 1705,2889 1706.3,2892.5 1706.6,2904.8 1707.9,2919.4 1707.3,2935.3 1707.9,2939.3 1709.3,2940.9 1710.1,2941.5 1710.9,2940.9 1712.3,2939.3 1712.9,2935.3 1712.3,2919.4 1713.6,2904.8 1713.9,2892.5 1715.3,2889 1716.6,2885.9 1718,2883 1719.3,2880.4 1720.6,2878.2 1722,2876.5 1723.3,2875.1 1724.7,2874.5 1726,2875.1 1727.4,2876.5 1728.7,2878.2 1730,2880.4 1731.4,2883 1732.7,2885.9 1734.1,2889 1735.4,2892.5 1735.7,2904.8 1737,2919.4 1736.4,2935.3 1737,2939.3 1738.4,2940.9 1739.2,2941.5 1740,2940.9 1741.4,2939.3 1742,2935.3 1741.4,2919.4 1742.7,2904.8 1743,2892.5 1744.4,2889 1745.7,2885.9 1747,2883 1748.4,2880.4 1749.7,2878.2 1751.1,2876.5 1752.4,2875.1 1753.8,2874.5 1755.1,2875.1 1756.4,2876.5 1757.8,2878.2 1759.1,2880.4 1760.5,2883 1761.8,2885.9 1763.2,2889 1764.5,2892.5 1764.8,2907.5 1766.1,2925.5 1765.5,2946.3 1766.1,2950.3 1767.5,2951.9 1768.3,2952.5 1769.1,2951.9 1770.5,2950.3 1771.1,2946.3 1770.5,2925.5 1771.8,2907.5 1772.1,2892.5 1773.4,2889 1774.8,2885.9 1776.1,2883 1777.5,2880.4 1778.8,2878.2 1780.2,2876.5 1781.5,2875.1 1782.8,2874.5 1784.2,2875.1 1785.5,2876.5 1786.9,2878.2 1788.2,2880.4 1789.6,2883 1790.9,2885.9 1792.2,2889 1793.6,2892.5 1793.9,2906.2 1795.2,2922.8 1794.6,2941.3 1795.2,2945.3 1796.6,2946.9 1797.4,2947.5 1798.2,2946.9 1799.6,2945.3 1800.2,2941.3 1799.6,2922.8 1800.9,2906.2 1801.2,2892.5 1802.5,2889 1803.9,2885.9 1805.2,2883 1806.6,2880.4 1807.9,2878.2 1809.2,2876.5 1810.6,2875.1 1811.9,2874.5 1813.3,2875.1 1814.6,2876.5 1816,2878.2 1817.3,2880.4 1818.6,2883 1820,2885.9 1821.3,2889 1822.7,2892.5 1823,2904.8 1824.3,2919.4 1823.7,2935.3 1824.3,2939.3 1825.7,2940.9 1826.5,2941.5 1827.3,2940.9 1828.7,2939.3 1829.3,2935.3 1828.7,2919.4 1830,2904.8 1830.3,2892.5 1831.6,2889 1833,2885.9 1834.3,2883 1835.6,2880.4 1837,2878.2 1838.3,2876.5 1839.7,2875.1 1841,2874.5 1842.3,2875.1 1843.7,2876.5 1845,2878.2 1846.4,2880.4 1847.7,2883 1849.1,2885.9 1850.4,2889 1851.7,2892.5 1852,2904.8 1853.3,2919.4 1852.7,2935.3 1853.3,2939.3 1854.7,2940.9 1855.5,2941.5 1856.3,2940.9 1857.7,2939.3 1858.3,2935.3 1857.7,2919.4 1859,2904.8 1859.3,2892.5 1860.7,2889 1862,2885.9 1863.4,2883 1864.7,2880.4 1866.1,2878.2 1867.4,2876.5 1868.7,2875.1 1870.1,2874.5 1871.4,2875.1 1872.8,2876.5 1874.1,2878.2 1875.5,2880.4 1876.8,2883 1878.1,2885.9 1879.5,2889 1880.8,2892.5 1881.1,2907.5 1882.4,2925.5 1881.8,2946.3 1882.4,2950.3 1883.8,2951.9 1884.6,2952.5 1885.4,2951.9 1886.8,2950.3 1887.4,2946.3 1886.8,2925.5 1888.1,2907.5 1888.4,2892.5 1889.8,2889 1891.1,2885.9 1892.5,2883 1893.8,2880.4 1895.1,2878.2 1896.5,2876.5 1897.8,2875.1 1899.2,2874.5 1900.5,2875.1 1901.9,2876.5 1903.2,2878.2 1904.5,2880.4 1905.9,2883 1907.2,2885.9 1908.6,2889 1909.9,2892.5 1910.2,2906.2 1911.5,2922.8 1910.9,2941.3 1911.5,2945.3 1912.9,2946.9 1913.7,2947.5 1914.5,2946.9 1915.9,2945.3 1916.5,2941.3 1915.9,2922.8 1917.2,2906.2 1917.5,2892.5 1918.9,2889 1920.2,2885.9 1921.5,2883 1922.9,2880.4 1924.2,2878.2 1925.6,2876.5 1926.9,2875.1 1928.3,2874.5 1929.6,2875.1 1930.9,2876.5 1932.3,2878.2 1933.6,2880.4 1935,2883 1936.3,2885.9 1937.7,2889 1939,2892.5 1939.3,2904.8 1940.6,2919.4 1940,2935.3 1940.6,2939.3 1942,2940.9 1942.8,2941.5 1943.6,2940.9 1945,2939.3 1945.6,2935.3 1945,2919.4 1946.3,2904.8 1946.6,2892.5 1947.9,2889 1949.3,2885.9 1950.6,2883 1952,2880.4 1953.3,2878.2 1954.7,2876.5 1956,2875.1 1957.3,2874.5 1958.7,2875.1 1960,2876.5 1961.4,2878.2 1962.7,2880.4 1964.1,2883 1965.4,2885.9 1966.7,2889 1968.1,2892.5 1968.4,2904.8 1969.7,2919.4 1969.1,2935.3 1969.7,2939.3 1971.1,2940.9 1971.9,2941.5 1972.7,2940.9 1974.1,2939.3 1974.7,2935.3 1974.1,2919.4 1975.4,2904.8 1975.7,2892.5 1977,2889 1978.4,2885.9 1979.7,2883 1981.1,2880.4 1982.4,2878.2 1983.7,2876.5 1985.1,2875.1 1986.4,2874.5 1987.8,2875.1 1989.1,2876.5 1990.4,2878.2 1991.8,2880.4 1993.1,2883 1994.5,2885.9 1995.8,2889 1997.2,2892.5 1997.5,2907.5 1998.8,2925.5 1998.2,2946.3 1998.8,2950.3 2000.2,2951.9 2001,2952.5 2001.8,2951.9 2003.2,2950.3 2003.8,2946.3 2003.2,2925.5 2004.5,2907.5 2004.8,2892.5 2006.1,2889 2007.4,2885.9 2008.8,2883 2010.1,2880.4 2011.5,2878.2 2012.8,2876.5 2014.2,2875.1 2015.5,2874.5 2016.8,2875.1 2018.2,2876.5 2019.5,2878.2 2020.9,2880.4 2022.2,2883 2023.6,2885.9 2024.9,2889 2026.2,2892.5 2026.5,2906.2 2027.8,2922.8 2027.2,2941.3 2027.8,2945.3 2029.2,2946.9 2030,2947.5 2030.8,2946.9 2032.2,2945.3 2032.8,2941.3 2032.2,2922.8 2033.5,2906.2 2033.8,2892.5 2035.2,2889 2036.5,2885.9 2037.9,2883 2039.2,2880.4 2040.6,2878.2 2041.9,2876.5 2043.2,2875.1 2044.6,2874.5 2045.9,2875.1 2047.3,2876.5 2048.6,2878.2 2050,2880.4 2051.3,2883 2052.6,2885.9 2054,2889 2055.3,2892.5 2055.6,2904.8 2056.9,2919.4 2056.3,2935.3 2056.9,2939.3 2058.3,2940.9 2059.1,2941.5 2059.9,2940.9 2061.3,2939.3 2061.9,2935.3 2061.3,2919.4 2062.6,2904.8 2062.9,2892.5 2064.3,2889 2065.6,2885.9 2067,2883 2068.3,2880.4 2069.6,2878.2 2071,2876.5 2072.3,2875.1 2073.7,2874.5 2075,2875.1 2076.4,2876.5 2077.7,2878.2 2079,2880.4 2080.4,2883 2081.7,2885.9 2083.1,2889 2084.4,2892.5 2084.7,2904.8 2086,2919.4 2085.4,2935.3 2086,2939.3 2087.4,2940.9 2088.2,2941.5 2089,2940.9 2090.4,2939.3 2091,2935.3 2090.4,2919.4 2091.7,2904.8 2092,2892.5 2093.4,2889 2094.7,2885.9 2096,2883 2097.4,2880.4 2098.7,2878.2 2100.1,2876.5 2101.4,2875.1 2102.8,2874.5 2104.1,2875.1 2105.4,2876.5 2106.8,2878.2 2108.1,2880.4 2109.5,2883 2110.8,2885.9 2112.2,2889 2113.5,2892.5 2113.8,2907.5 2115.1,2925.5 2114.5,2946.3 2115.1,2950.3 2116.5,2951.9 2117.3,2952.5 2118.1,2951.9 2119.5,2950.3 2120.1,2946.3 2119.5,2925.5 2120.8,2907.5 2121.1,2892.5 2122.4,2889 2123.8,2885.9 2125.1,2883 2126.5,2880.4 2127.8,2878.2 2129.2,2876.5 2130.5,2875.1 2131.8,2874.5 2133.2,2875.1 2134.5,2876.5 2135.9,2878.2 2137.2,2880.4 2138.5,2883 2139.9,2885.9 2141.2,2889 2142.6,2892.5 2142.9,2906.2 2144.2,2922.8 2143.6,2941.3 2144.2,2945.3 2145.6,2946.9 2146.4,2947.5 2147.2,2946.9 2148.6,2945.3 2149.2,2941.3 2148.6,2922.8 2149.9,2906.2 2150.2,2892.5 2151.5,2889 2152.9,2885.9 2154.2,2883 2155.5,2880.4 2156.9,2878.2 2158.2,2876.5 2159.6,2875.1 2160.9,2874.5 2162.3,2875.1 2163.6,2876.5 2164.9,2878.2 2166.3,2880.4 2167.6,2883 2169,2885.9 2170.3,2889 2171.7,2892.5 2172,2904.8 2173.3,2919.4 2172.7,2935.3 2173.3,2939.3 2174.7,2940.9 2175.5,2941.5 2176.3,2940.9 2177.7,2939.3 2178.3,2935.3 2177.7,2919.4 2179,2904.8 2179.3,2892.5 2180.6,2889 2181.9,2885.9 2183.3,2883 2184.6,2880.4 2186,2878.2 2187.3,2876.5 2188.7,2875.1 2190,2874.5 2191.3,2875.1 2192.7,2876.5 2194,2878.2 2195.4,2880.4 2196.7,2883 2198.1,2885.9 2199.4,2889 2200.7,2892.5 2201,2904.8 2202.3,2919.4 2201.7,2935.3 2202.3,2939.3 2203.7,2940.9 2204.5,2941.5 2205.3,2940.9 2206.7,2939.3 2207.3,2935.3 2206.7,2919.4 2208,2904.8 2208.3,2892.5 2209.7,2889 2211,2885.9 2212.4,2883 2213.7,2880.4 2215.1,2878.2 2216.4,2876.5 2217.7,2875.1 2219.1,2874.5 2220.4,2875.1 2221.8,2876.5 2223.1,2878.2 2224.5,2880.4 2225.8,2883 2227.1,2885.9 2228.5,2889 2229.8,2892.5 2230.1,2907.5 2231.4,2925.5 2230.8,2946.3 2231.4,2950.3 2232.8,2951.9 2233.6,2952.5 2234.4,2951.9 2235.8,2950.3 2236.4,2946.3 2235.8,2925.5 2237.1,2907.5 2237.4,2892.5 2238.8,2889 2240.1,2885.9 2241.5,2883 2242.8,2880.4 2244.1,2878.2 2245.5,2876.5 2246.8,2875.1 2248.2,2874.5 2249.5,2875.1 2250.9,2876.5 2252.2,2878.2 2253.5,2880.4 2254.9,2883 2256.2,2885.9 2257.6,2889 2258.9,2892.5 2259.2,2906.2 2260.5,2922.8 2259.9,2941.3 2260.5,2945.3 2261.9,2946.9 2262.7,2947.5 2263.5,2946.9 2264.9,2945.3 2265.5,2941.3 2264.9,2922.8 2266.2,2906.2 2266.5,2892.5 2267.9,2889 2269.2,2885.9 2270.5,2883 2271.9,2880.4 2273.2,2878.2 2274.6,2876.5 2275.9,2875.1 2277.3,2874.5 2278.6,2875.1 2279.9,2876.5 2281.3,2878.2 2282.6,2880.4 2284,2883 2285.3,2885.9 2286.7,2889 2288,2892.5 2288.3,2904.8 2289.6,2919.4 2289,2935.3 2289.6,2939.3 2291,2940.9 2291.8,2941.5 2292.6,2940.9 2294,2939.3 2294.6,2935.3 2294,2919.4 2295.3,2904.8 2295.6,2892.5 2296.9,2889 2298.3,2885.9 2299.6,2883 2301,2880.4 2302.3,2878.2 2303.6,2876.5 2305,2875.1 2306.3,2874.5 2307.7,2875.1 2309,2876.5 2310.4,2878.2 2311.7,2880.4 2313,2883 2314.4,2885.9 2315.7,2889 2317.1,2892.5 2317.4,2904.8 2318.7,2919.4 2318.1,2935.3 2318.7,2939.3 2320.1,2940.9 2320.9,2941.5 2321.7,2940.9 2323.1,2939.3 2323.7,2935.3 2323.1,2919.4 2324.4,2904.8 2324.7,2892.5 2326,2889 2327.4,2885.9 2328.7,2883 2330,2880.4 2331.4,2878.2 2332.7,2876.5 2334.1,2875.1 2335.4,2874.5 2336.8,2875.1 2338.1,2876.5 2339.4,2878.2 2340.8,2880.4 2342.1,2883 2343.5,2885.9 2344.8,2889 2346.2,2892.5 2346.5,2907.5 2347.8,2925.5 2347.2,2946.3 2347.8,2950.3 2349.2,2951.9 2350,2952.5 2350.8,2951.9 2352.2,2950.3 2352.8,2946.3 2352.2,2925.5 2353.5,2907.5 2353.8,2892.5 2355.1,2889 2356.4,2885.9 2357.8,2883 2359.1,2880.4 2360.5,2878.2 2361.8,2876.5 2363.2,2875.1 2364.5,2874.5 2365.8,2875.1 2367.2,2876.5 2368.5,2878.2 2369.9,2880.4 2371.2,2883 2372.6,2885.9 2373.9,2889 2375.2,2892.5 2375.5,2906.2 2376.8,2922.8 2376.2,2941.3 2376.8,2945.3 2378.2,2946.9 2379,2947.5 2379.8,2946.9 2381.2,2945.3 2381.8,2941.3 2381.2,2922.8 2382.5,2906.2 2382.8,2892.5 2384.2,2889 2385.5,2885.9 2386.9,2883 2388.2,2880.4 2389.6,2878.2 2390.9,2876.5 2392.2,2875.1 2393.6,2874.5 2394.9,2875.1 2396.3,2876.5 2397.6,2878.2 2399,2880.4 2400.3,2883 2401.6,2885.9 2403,2889 2404.3,2892.5 2404.6,2904.8 2405.9,2919.4 2405.3,2935.3 2405.9,2939.3 2407.3,2940.9 2408.1,2941.5 2408.9,2940.9 2410.3,2939.3 2410.9,2935.3 2410.3,2919.4 2411.6,2904.8 2411.9,2892.5 2413.3,2889 2414.6,2885.9 2416,2883 2417.3,2880.4 2418.6,2878.2 2420,2876.5 2421.3,2875.1 2422.7,2874.5 2424,2875.1 2425.4,2876.5 2426.7,2878.2 2428,2880.4 2429.4,2883 2430.7,2885.9 2432.1,2889 2433.4,2892.5 2433.7,2904.8 2435,2919.4 2434.4,2935.3 2435,2939.3 2436.4,2940.9 2437.2,2941.5 2438,2940.9 2439.4,2939.3 2440,2935.3 2439.4,2919.4 2440.7,2904.8 2441,2892.5 2442.4,2889 2443.7,2885.9 2445,2883 2446.4,2880.4 2447.7,2878.2 2449.1,2876.5 2450.4,2875.1 2451.7,2874.5 2453.1,2875.1 2454.4,2876.5 2455.8,2878.2 2457.1,2880.4 2458.5,2883 2459.8,2885.9 2461.1,2889 2462.5,2892.5 2462.8,2907.5 2464.1,2925.5 2463.5,2946.3 2464.1,2950.3 2465.5,2951.9 2466.3,2952.5 2467.1,2951.9 2468.5,2950.3 2469.1,2946.3 2468.5,2925.5 2469.8,2907.5 2470.1,2892.5 2471.4,2889 2472.8,2885.9 2474.1,2883 2475.5,2880.4 2476.8,2878.2 2478.1,2876.5 2479.5,2875.1 2480.8,2874.5 2482.2,2875.1 2483.5,2876.5 2484.9,2878.2 2486.2,2880.4 2487.5,2883 2488.9,2885.9 2490.2,2889 2491.6,2892.5 2491.9,2906.2 2493.2,2922.8 2492.6,2941.3 2493.2,2945.3 2494.6,2946.9 2495.4,2947.5 2496.2,2946.9 2497.6,2945.3 2498.2,2941.3 2497.6,2922.8 2498.9,2906.2 2499.2,2892.5 2500.5,2889 2501.9,2885.9 2503.2,2883 2504.5,2880.4 2505.9,2878.2 2507.2,2876.5 2508.6,2875.1 2509.9,2874.5 2511.3,2875.1 2512.6,2876.5 2513.9,2878.2 2515.3,2880.4 2516.6,2883 2518,2885.9 2519.3,2889 2520.7,2892.5 2521,2904.8 2522.3,2919.4 2521.7,2935.3 2522.3,2939.3 2523.7,2940.9 2524.5,2941.5 2525.3,2940.9 2526.7,2939.3 2527.3,2935.3 2526.7,2919.4 2528,2904.8 2528.3,2892.5 2529.6,2889 2530.9,2885.9 2532.3,2883 2533.6,2880.4 2535,2878.2 2536.3,2876.5 2537.7,2875.1 2539,2874.5 2540.3,2875.1 2541.7,2876.5 2543,2878.2 2544.4,2880.4 2545.7,2883 2547.1,2885.9 2548.4,2889 2549.7,2892.5 2550,2904.8 2551.3,2919.4 2550.7,2935.3 2551.3,2939.3 2552.7,2940.9 2553.5,2941.5 2554.3,2940.9 2555.7,2939.3 2556.3,2935.3 2555.7,2919.4 2557,2904.8 2557.3,2892.5 2558.7,2889 2560,2885.9 2561.4,2883 2562.7,2880.4 2564.1,2878.2 2565.4,2876.5 2566.7,2875.1 2568.1,2874.5 2569.4,2875.1 2570.8,2876.5 2572.1,2878.2 2573.5,2880.4 2574.8,2883 2576.1,2885.9 2577.5,2889 2578.8,2892.5 2579.1,2907.5 2580.4,2925.5 2579.8,2946.3 2580.4,2950.3 2581.8,2951.9 2582.6,2952.5 2583.4,2951.9 2584.8,2950.3 2585.4,2946.3 2584.8,2925.5 2586.1,2907.5 2586.4,2892.5 2587.8,2889 2589.1,2885.9 2590.5,2883 2591.8,2880.4 2593.1,2878.2 2594.5,2876.5 2595.8,2875.1 2597.2,2874.5 2598.5,2875.1 2599.8,2876.5 2601.2,2878.2 2602.5,2880.4 2603.9,2883 2605.2,2885.9 2606.6,2889 2607.9,2892.5 2608.2,2906.2 2609.5,2922.8 2608.9,2941.3 2609.5,2945.3 2610.9,2946.9 2611.7,2947.5 2612.5,2946.9 2613.9,2945.3 2614.5,2941.3 2613.9,2922.8 2615.2,2906.2 2615.5,2892.5 2616.8,2889 2618.2,2885.9 2619.5,2883 2620.9,2880.4 2622.2,2878.2 2623.6,2876.5 2624.9,2875.1 2626.2,2874.5 2627.6,2875.1 2628.9,2876.5 2630.3,2878.2 2631.6,2880.4 2633,2883 2634.3,2885.9 2635.6,2889 2637,2892.5 2637.3,2904.8 2638.6,2919.4 2638,2935.3 2638.6,2939.3 2640,2940.9 2640.8,2941.5 2641.6,2940.9 2643,2939.3 2643.6,2935.3 2643,2919.4 2644.3,2904.8 2644.6,2892.5 2645.9,2889 2647.3,2885.9 2648.6,2883 2650,2880.4 2651.3,2878.2 2652.6,2876.5 2654,2875.1 2655.3,2874.5 2656.7,2875.1 2658,2876.5 2659.4,2878.2 2660.7,2880.4 2662,2883 2663.4,2885.9 2664.7,2889 2666.1,2892.5 2666.4,2904.8 2667.7,2919.4 2667.1,2935.3 2667.7,2939.3 2669.1,2940.9 2669.9,2941.5 2670.7,2940.9 2672.1,2939.3 2672.7,2935.3 2672.1,2919.4 2673.4,2904.8 2673.7,2892.5 2675,2889 2676.4,2885.9 2677.7,2883 2679,2880.4 2680.4,2878.2 2681.7,2876.5 2683.1,2875.1 2684.4,2874.5 2685.8,2875.1 2687.1,2876.5 2688.4,2878.2 2689.8,2880.4 2691.1,2883 2692.5,2885.9 2693.8,2889 2695.2,2892.5 2695.5,2907.5 2696.8,2925.5 2696.2,2946.3 2696.8,2950.3 2698.2,2951.9 2699,2952.5 2699.8,2951.9 2701.2,2950.3 2701.8,2946.3 2701.2,2925.5 2702.5,2907.5 2702.8,2892.5 2704.1,2889 2705.4,2885.9 2706.8,2883 2708.1,2880.4 2709.5,2878.2 2710.8,2876.5 2712.2,2875.1 2713.5,2874.5 2714.8,2875.1 2716.2,2876.5 2717.5,2878.2 2718.9,2880.4 2720.2,2883 2721.6,2885.9 2722.9,2889 2724.2,2892.5 2724.5,2906.2 2725.8,2922.8 2725.2,2941.3 2725.8,2945.3 2727.2,2946.9 2728,2947.5 2728.8,2946.9 2730.2,2945.3 2730.8,2941.3 2730.2,2922.8 2731.5,2906.2 2731.8,2892.5 2733.2,2889 2734.5,2885.9 2735.9,2883 2737.2,2880.4 2738.6,2878.2 2739.9,2876.5 2741.2,2875.1 2742.6,2874.5 2743.9,2875.1 2745.3,2876.5 2746.6,2878.2 2748,2880.4 2749.3,2883 2750.6,2885.9 2752,2889 2753.3,2892.5 2753.6,2904.8 2754.9,2919.4 2754.3,2935.3 2754.9,2939.3 2756.3,2940.9 2757.1,2941.5 2757.9,2940.9 2759.3,2939.3 2759.9,2935.3 2759.3,2919.4 2760.6,2904.8 2760.9,2892.5 2762.3,2889 2763.6,2885.9 2764.9,2883 2766.3,2880.4 2767.6,2878.2 2769,2876.5 2770.3,2875.1 2771.7,2874.5 2773,2875.1 2774.3,2876.5 2775.7,2878.2 2777,2880.4 2778.4,2883 2779.7,2885.9 2781.1,2889 2782.4,2892.5 2782.7,2904.8 2784,2919.4 2783.4,2935.3 2784,2939.3 2785.4,2940.9 2786.2,2941.5 2787,2940.9 2788.4,2939.3 2789,2935.3 2788.4,2919.4 2789.7,2904.8 2790,2892.5 2791.3,2889 2792.7,2885.9 2794,2883 2795.4,2880.4 2796.7,2878.2 2798.1,2876.5 2799.4,2875.1 2800.7,2874.5 2802.1,2875.1 2803.4,2876.5 2804.8,2878.2 2806.1,2880.4 2807.5,2883 2808.8,2885.9 2810.1,2889 2811.5,2892.5 2811.8,2907.5 2813.1,2925.5 2812.5,2946.3 2813.1,2950.3 2814.5,2951.9 2815.3,2952.5 2816.1,2951.9 2817.5,2950.3 2818.1,2946.3 2817.5,2925.5 2818.8,2907.5 2819.1,2892.5 2820.4,2889 2821.8,2885.9 2823.1,2883 2824.5,2880.4 2825.8,2878.2 2827.1,2876.5 2828.5,2875.1 2829.8,2874.5 2831.2,2875.1 2832.5,2876.5 2833.9,2878.2 2835.2,2880.4 2836.5,2883 2837.9,2885.9 2839.2,2889 2840.6,2892.5 2840.9,2906.2 2842.2,2922.8 2841.6,2941.3 2842.2,2945.3 2843.6,2946.9 2844.4,2947.5 2845.2,2946.9 2846.6,2945.3 2847.2,2941.3 2846.6,2922.8 2847.9,2906.2 2848.2,2892.5 2849.5,2889 2850.9,2885.9 2852.2,2883 2853.5,2880.4 2854.9,2878.2 2856.2,2876.5 2857.6,2875.1 2858.9,2874.5 2860.3,2875.1 2861.6,2876.5 2862.9,2878.2 2864.3,2880.4 2865.6,2883 2867,2885.9 2868.3,2889 2869.7,2892.5 2870,2904.8 2871.3,2919.4 2870.7,2935.3 2871.3,2939.3 2872.7,2940.9 2873.5,2941.5 2874.3,2940.9 2875.7,2939.3 2876.3,2935.3 2875.7,2919.4 2877,2904.8 2877.3,2892.5 2878.6,2889 2879.9,2885.9 2881.3,2883 2882.6,2880.4 2884,2878.2 2885.3,2876.5 2886.7,2875.1 2888,2874.5 2889.3,2875.1 2890.7,2876.5 2892,2878.2 2893.4,2880.4 2894.7,2883 2896.1,2885.9 2897.4,2889 2898.7,2892.5 2899,2904.8 2900.3,2919.4 2899.7,2935.3 2900.3,2939.3 2901.7,2940.9 2902.5,2941.5 2903.3,2940.9 2904.7,2939.3 2905.3,2935.3 2904.7,2919.4 2906,2904.8 2906.3,2892.5 2907.7,2889 2909,2885.9 2910.4,2883 2911.7,2880.4 2913,2878.2 2914.4,2876.5 2915.7,2875.1 2917.1,2874.5 2918.4,2875.1 2919.8,2876.5 2921.1,2878.2 2922.4,2880.4 2923.8,2883 2925.1,2885.9 2926.5,2889 2927.8,2892.5 2928.1,2907.5 2929.4,2925.5 2928.8,2946.3 2929.4,2950.3 2930.8,2951.9 2931.6,2952.5 2932.4,2951.9 2933.8,2950.3 2934.4,2946.3 2933.8,2925.5 2935.1,2907.5 2935.4,2892.5 2936.8,2889 2938.1,2885.9 2939.4,2883 2940.8,2880.4 2942.1,2878.2 2943.5,2876.5 2944.8,2875.1 2946.2,2874.5 2947.5,2875.1 2948.8,2876.5 2950.2,2878.2 2951.5,2880.4 2952.9,2883 2954.2,2885.9 2955.6,2889 2956.9,2892.5 2957.2,2906.2 2958.5,2922.8 2957.9,2941.3 2958.5,2945.3 2959.9,2946.9 2960.7,2947.5 2961.5,2946.9 2962.9,2945.3 2963.5,2941.3 2962.9,2922.8 2964.2,2906.2 2964.5,2892.5 2965.8,2889 2967.2,2885.9 2968.5,2883 2969.9,2880.4 2971.2,2878.2 2972.6,2876.5 2973.9,2875.1 2975.2,2874.5 2976.6,2875.1 2977.9,2876.5 2979.3,2878.2 2980.6,2880.4 2982,2883 2983.3,2885.9 2984.6,2889 2986,2892.5 2986.3,2904.8 2987.6,2919.4 2987,2935.3 2987.6,2939.3 2989,2940.9 2989.8,2941.5 2990.6,2940.9 2992,2939.3 2992.6,2935.3 2992,2919.4 2993.3,2904.8 2993.6,2892.5 2994.9,2889 2996.3,2885.9 2997.6,2883 2999,2880.4 3000.3,2878.2 3001.6,2876.5 3003,2875.1 3004.3,2874.5 3005.7,2875.1 3007,2876.5 3008.4,2878.2 3009.7,2880.4 3011,2883 3012.4,2885.9 3013.7,2889 3015.1,2892.5 3015.4,2904.8 3016.7,2919.4 3016.1,2935.3 3016.7,2939.3 3018.1,2940.9 3018.9,2941.5 3019.7,2940.9 3021.1,2939.3 3021.7,2935.3 3021.1,2919.4 3022.4,2904.8 3022.7,2892.5 3024,2889 3025.4,2885.9 3026.7,2883 3028,2880.4 3029.4,2878.2 3030.7,2876.5 3032.1,2875.1 3033.4,2874.5 3034.8,2875.1 3036.1,2876.5 3037.4,2878.2 3038.8,2880.4 3040.1,2883 3041.5,2885.9 3042.8,2889 3044.2,2892.5 3044.5,2907.5 3045.8,2925.5 3045.2,2946.3 3045.8,2950.3 3047.2,2951.9 3048,2952.5 3048.8,2951.9 3050.2,2950.3 3050.8,2946.3 3050.2,2925.5 3051.5,2907.5 3051.8,2892.5 3053.1,2889 3054.4,2885.9 3055.8,2883 3057.1,2880.4 3058.5,2878.2 3059.8,2876.5 3061.1,2875.1 3062.5,2874.5 3063.8,2875.1 3065.2,2876.5 3066.5,2878.2 3067.9,2880.4 3069.2,2883 3070.5,2885.9 3071.9,2889 3073.2,2892.5 3073.5,2906.2 3074.8,2922.8 3074.2,2941.3 3074.8,2945.3 3076.2,2946.9 3077,2947.5 3077.8,2946.9 3079.2,2945.3 3079.8,2941.3 3079.2,2922.8 3080.5,2906.2 3080.8,2892.5 3082.2,2889 3083.5,2885.9 3084.9,2883 3086.2,2880.4 3087.5,2878.2 3088.9,2876.5 3090.2,2875.1 3091.6,2874.5 3092.9,2875.1 3094.3,2876.5 3095.6,2878.2 3096.9,2880.4 3098.3,2883 3099.6,2885.9 3101,2889 3102.3,2892.5 3102.6,2904.8 3103.9,2919.4 3103.3,2935.3 3103.9,2939.3 3105.3,2940.9 3106.1,2941.5 3106.9,2940.9 3108.3,2939.3 3108.9,2935.3 3108.3,2919.4 3109.6,2904.8 3109.9,2892.5 3111.3,2889 3112.6,2885.9 3113.9,2883 3115.3,2880.4 3116.6,2878.2 3118,2876.5 3119.3,2875.1 3120.7,2874.5 3122,2875.1 3123.3,2876.5 3124.7,2878.2 3126,2880.4 3127.4,2883 3128.7,2885.9 3130.1,2889 3131.4,2892.5 3131.7,2904.8 3133,2919.4 3132.4,2935.3 3133,2939.3 3134.4,2940.9 3135.2,2941.5 3136,2940.9 3137.4,2939.3 3138,2935.3 3137.4,2919.4 3138.7,2904.8 3139,2892.5 3140.3,2889 3141.7,2885.9 3143,2883 3144.4,2880.4 3145.7,2878.2 3147.1,2876.5 3148.4,2875.1 3149.7,2874.5 3151.1,2875.1 3152.4,2876.5 3153.8,2878.2 3155.1,2880.4 3156.5,2883 3157.8,2885.9 3159.1,2889 3160.5,2892.5 3160.8,2907.5 3162.1,2925.5 3161.5,2946.3 3162.1,2950.3 3163.5,2951.9 3164.3,2952.5 3165.1,2951.9 3166.5,2950.3 3167.1,2946.3 3166.5,2925.5 3167.8,2907.5 3168.1,2892.5 3169.4,2889 3170.8,2885.9 3172.1,2883 3173.5,2880.4 3174.8,2878.2 3176.1,2876.5 3177.5,2875.1 3178.8,2874.5 3180.2,2875.1 3181.5,2876.5 3182.9,2878.2 3184.2,2880.4 3185.5,2883 3186.9,2885.9 3188.2,2889 3189.6,2892.5 3189.9,2906.2 3191.2,2922.8 3190.6,2941.3 3191.2,2945.3 3192.6,2946.9 3193.4,2947.5 3194.2,2946.9 3195.6,2945.3 3196.2,2941.3 3195.6,2922.8 3196.9,2906.2 3197.2,2892.5 3198.5,2889 3199.9,2885.9 3201.2,2883 3202.5,2880.4 3203.9,2878.2 3205.2,2876.5 3206.6,2875.1 3207.9,2874.5 3209.3,2875.1 3210.6,2876.5 3211.9,2878.2 3213.3,2880.4 3214.6,2883 3216,2885.9 3217.3,2889 3218.6,2892.5 3218.9,2904.8 3220.2,2919.4 3219.6,2935.3 3220.2,2939.3 3221.6,2940.9 3222.4,2941.5 3223.2,2940.9 3224.6,2939.3 3225.2,2935.3 3224.6,2919.4 3225.9,2904.8 3226.2,2892.5 3227.6,2889 3228.9,2885.9 3230.3,2883 3231.6,2880.4 3233,2878.2 3234.3,2876.5 3235.6,2875.1 3237,2874.5 3238.3,2875.1 3239.7,2876.5 3241,2878.2 3242.4,2880.4 3243.7,2883 3245,2885.9 3246.4,2889 3247.7,2892.5 3248,2904.8 3249.3,2919.4 3248.7,2935.3 3249.3,2939.3 3250.7,2940.9 3251.5,2941.5 3252.3,2940.9 3253.7,2939.3 3254.3,2935.3 3253.7,2919.4 3255,2904.8 3255.3,2892.5 3256.7,2889 3258,2885.9 3259.4,2883 3260.7,2880.4 3262,2878.2 3263.4,2876.5 3264.7,2875.1 3266.1,2874.5 3267.4,2875.1 3268.8,2876.5 3270.1,2878.2 3271.4,2880.4 3272.8,2883 3274.1,2885.9 3275.5,2889 3276.8,2892.5 3277.1,2907.5 3278.4,2925.5 3277.8,2946.3 3278.4,2950.3 3279.8,2951.9 3280.6,2952.5 3281.4,2951.9 3282.8,2950.3 3283.4,2946.3 3282.8,2925.5 3284.1,2907.5 3284.4,2892.5 3285.8,2889 3287.1,2885.9 3288.4,2883 3289.8,2880.4 3291.1,2878.2 3292.5,2876.5 3293.8,2875.1 3295.2,2874.5 3296.5,2875.1 3297.8,2876.5 3299.2,2878.2 3300.5,2880.4 3301.9,2883 3303.2,2885.9 3304.6,2889 3305.9,2892.5 3306.2,2906.2 3307.5,2922.8 3306.9,2941.3 3307.5,2945.3 3308.9,2946.9 3309.7,2947.5 3310.5,2946.9 3311.9,2945.3 3312.5,2941.3 3311.9,2922.8 3313.2,2906.2 3313.5,2892.5 3314.8,2889 3316.2,2885.9 3317.5,2883 3318.9,2880.4 3320.2,2878.2 3321.6,2876.5 3322.9,2875.1 3324.2,2874.5 3325.6,2875.1 3326.9,2876.5 3328.3,2878.2 3329.6,2880.4 3331,2883 3332.3,2885.9 3333.6,2889 3335,2892.5 3335.3,2904.8 3336.6,2919.4 3336,2935.3 3336.6,2939.3 3338,2940.9 3338.8,2941.5 3339.6,2940.9 3341,2939.3 3341.6,2935.3 3341,2919.4 3342.3,2904.8 3342.6,2892.5 3343.9,2889 3345.3,2885.9 3346.6,2883 3348,2880.4 3349.3,2878.2 3350.6,2876.5 3352,2875.1 3353.3,2874.5 3354.7,2875.1 3356,2876.5 3357.4,2878.2 3358.7,2880.4 3360,2883 3361.4,2885.9 3362.7,2889 3364.1,2892.5 3364.4,2904.8 3365.7,2919.4 3365.1,2935.3 3365.7,2939.3 3367.1,2940.9 3367.9,2941.5 3368.7,2940.9 3370.1,2939.3 3370.7,2935.3 3370.1,2919.4 3371.4,2904.8 3371.7,2892.5 3373,2889 3374.3,2885.9 3375.7,2883 3377,2880.4 3378.4,2878.2 3379.7,2876.5 3381.1,2875.1 3382.4,2874.5 3383.7,2875.1 3385.1,2876.5 3386.4,2878.2 3387.8,2880.4 3389.1,2883 3390.5,2885.9 3391.8,2889 3393.1,2892.5 3393.4,2907.5 3394.7,2925.5 3394.1,2946.3 3394.7,2950.3 3396.1,2951.9 3396.9,2952.5 3397.7,2951.9 3399.1,2950.3 3399.7,2946.3 3399.1,2925.5 3400.4,2907.5 3400.7,2892.5 3402.1,2889 3403.4,2885.9 3404.8,2883 3406.1,2880.4 3407.5,2878.2 3408.8,2876.5 3410.1,2875.1 3411.5,2874.5 3412.8,2875.1 3414.2,2876.5 3415.5,2878.2 3416.9,2880.4 3418.2,2883 3419.5,2885.9 3420.9,2889 3422.2,2892.5 3422.5,2906.2 3423.8,2922.8 3423.2,2941.3 3423.8,2945.3 3425.2,2946.9 3426,2947.5 3426.8,2946.9 3428.2,2945.3 3428.8,2941.3 3428.2,2922.8 3429.5,2906.2 3429.8,2892.5 3431.2,2889 3432.5,2885.9 3433.9,2883 3435.2,2880.4 3436.5,2878.2 3437.9,2876.5 3439.2,2875.1 3440.6,2874.5 3441.9,2875.1 3443.3,2876.5 3444.6,2878.2 3445.9,2880.4 3447.3,2883 3448.6,2885.9 3450,2889 3451.3,2892.5 3451.6,2904.8 3452.9,2919.4 3452.3,2935.3 3452.9,2939.3 3454.3,2940.9 3455.1,2941.5 3455.9,2940.9 3457.3,2939.3 3457.9,2935.3 3457.3,2919.4 3458.6,2904.8 3458.9,2892.5 3460.3,2889 3461.6,2885.9 3462.9,2883 3464.3,2880.4 3465.6,2878.2 3467,2876.5 3468.3,2875.1 3469.7,2874.5 3471,2875.1 3472.3,2876.5 3473.7,2878.2 3475,2880.4 3476.4,2883 3477.7,2885.9 3479.1,2889 3480.4,2892.5 3480.7,2904.8 3482,2919.4 3481.4,2935.3 3482,2939.3 3483.4,2940.9 3484.2,2941.5 3485,2940.9 3486.4,2939.3 3487,2935.3 3486.4,2919.4 3487.7,2904.8 3488,2892.5 3489.3,2889 3490.7,2885.9 3492,2883 3493.4,2880.4 3494.7,2878.2 3496.1,2876.5 3497.4,2875.1 3498.7,2874.5 3500.1,2875.1 3501.4,2876.5 3502.8,2878.2 3504.1,2880.4 3505.5,2883 3506.8,2885.9 3508.1,2889 3509.5,2892.5 3509.8,2907.5 3511.1,2925.5 3510.5,2946.3 3511.1,2950.3 3512.5,2951.9 3513.3,2952.5 3514.1,2951.9 3515.5,2950.3 3516.1,2946.3 3515.5,2925.5 3516.8,2907.5 3517.1,2892.5 3518.4,2889 3519.8,2885.9 3521.1,2883 3522.4,2880.4 3523.8,2878.2 3525.1,2876.5 3526.5,2875.1 3527.8,2874.5 3529.2,2875.1 3530.5,2876.5 3531.8,2878.2 3533.2,2880.4 3534.5,2883 3535.9,2885.9 3537.2,2889 3538.6,2892.5 3538.9,2906.2 3540.2,2922.8 3539.6,2941.3 3540.2,2945.3 3541.6,2946.9 3542.4,2947.5 3543.2,2946.9 3544.6,2945.3 3545.2,2941.3 3544.6,2922.8 3545.9,2906.2 3546.2,2892.5 3547.5,2889 3548.8,2885.9 3550.2,2883 3551.5,2880.4 3552.9,2878.2 3554.2,2876.5 3555.6,2875.1 3556.9,2874.5 3558.2,2875.1 3559.6,2876.5 3560.9,2878.2 3562.3,2880.4 3563.6,2883 3565,2885.9 3566.3,2889 3567.6,2892.5 3567.9,2904.8 3569.2,2919.4 3568.6,2935.3 3569.2,2939.3 3570.6,2940.9 3571.4,2941.5 3572.2,2940.9 3573.6,2939.3 3574.2,2935.3 3573.6,2919.4 3574.9,2904.8 3575.2,2892.5 3576.6,2889 3577.9,2885.9 3579.3,2883 3580.6,2880.4 3582,2878.2 3583.3,2876.5 3584.6,2875.1 3586,2874.5 3587.3,2875.1 3588.7,2876.5 3590,2878.2 3591.4,2880.4 3592.7,2883 3594,2885.9 3595.4,2889 3596.7,2892.5 3597,2904.8 3598.3,2919.4 3597.7,2935.3 3598.3,2939.3 3599.7,2940.9 3600.5,2941.5 3601.3,2940.9 3602.7,2939.3 3603.3,2935.3 3602.7,2919.4 3604,2904.8 3604.3,2892.5 3605.7,2889 3607,2885.9 3608.4,2883 3609.7,2880.4 3611,2878.2 3612.4,2876.5 3613.7,2875.1 3615.1,2874.5 3616.4,2875.1 3617.8,2876.5 3619.1,2878.2 3620.4,2880.4 3621.8,2883 3623.1,2885.9 3624.5,2889 3625.8,2892.5 3626.1,2907.5 3627.4,2925.5 3626.8,2946.3 3627.4,2950.3 3628.8,2951.9 3629.6,2952.5 3630.4,2951.9 3631.8,2950.3 3632.4,2946.3 3631.8,2925.5 3633.1,2907.5 3633.4,2892.5 3634.8,2889 3636.1,2885.9 3637.4,2883 3638.8,2880.4 3640.1,2878.2 3641.5,2876.5 3642.8,2875.1 3644.2,2874.5 3645.5,2875.1 3646.8,2876.5 3648.2,2878.2 3649.5,2880.4 3650.9,2883 3652.2,2885.9 3653.6,2889 3654.9,2892.5 3655.2,2906.2 3656.5,2922.8 3655.9,2941.3 3656.5,2945.3 3657.9,2946.9 3658.7,2947.5 3659.5,2946.9 3660.9,2945.3 3661.5,2941.3 3660.9,2922.8 3662.2,2906.2 3662.5,2892.5 3663.8,2889 3665.2,2885.9 3666.5,2883 3667.9,2880.4 3669.2,2878.2 3670.6,2876.5 3671.9,2875.1 3673.2,2874.5 3674.6,2875.1 3675.9,2876.5 3677.3,2878.2 3678.6,2880.4 3679.9,2883 3681.3,2885.9 3682.6,2889 3684,2892.5 3684.3,2904.8 3685.6,2919.4 3685,2935.3 3685.6,2939.3 3687,2940.9 3687.8,2941.5 3688.6,2940.9"/>
<text x="1556.4" y="1896.2" font-size="93" textLength="394.6" lengthAdjust="spacingAndGlyphs">Backlight</text>
<text x="1975.5" y="1896.2" font-size="93" textLength="95" lengthAdjust="spacingAndGlyphs">@</text>
<text x="2095.2" y="1896.2" font-size="93" textLength="189.6" lengthAdjust="spacingAndGlyphs">50%</text>
<text x="206.3" y="3228" font-size="64" text-anchor="middle">0</text>
<text x="903.5" y="3228" font-size="64" text-anchor="middle">0.05</text>
<text x="1598.2" y="3228" font-size="64" text-anchor="middle">0.1</text>
<text x="2298" y="3228" font-size="64" text-anchor="middle">0.15</text>
<text x="2992.6" y="3228" font-size="64" text-anchor="middle">0.2</text>
<text x="3692.2" y="3228" font-size="64" text-anchor="middle">0.25</text>
<text x="1711.4" y="3341" font-size="68" textLength="158.8" lengthAdjust="spacingAndGlyphs">Time</text>
<text x="1885.8" y="3341" font-size="68" textLength="297.2" lengthAdjust="spacingAndGlyphs">(seconds)</text>
<text transform="translate(172.6 2742.4) rotate(-90)" font-size="66" textLength="345.6" lengthAdjust="spacingAndGlyphs">Luminosity</text>
<g stroke="#dfdfdf" stroke-width="4.5">
<line x1="206.3" y1="3790.3" x2="3688.5" y2="3790.3"/>
<line x1="206.3" y1="3906.1" x2="3688.5" y2="3906.1"/>
<line x1="206.3" y1="4021.9" x2="3688.5" y2="4021.9"/>
<line x1="206.3" y1="4137.7" x2="3688.5" y2="4137.7"/>
<line x1="206.3" y1="4253.5" x2="3688.5" y2="4253.5"/>
<line x1="206.3" y1="4369.3" x2="3688.5" y2="4369.3"/>
<line x1="206.3" y1="4485.1" x2="3688.5" y2="4485.1"/>
<line x1="206.3" y1="4600.9" x2="3688.5" y2="4600.9"/>
<line x1="206.3" y1="4716.7" x2="3688.5" y2="4716.7"/>
<line x1="206.3" y1="4832.5" x2="3688.5" y2="4832.5"/>
</g>
<g stroke="#f0f0f0" stroke-width="7.5">
<line x1="344.9" y1="3736.1" x2="344.9" y2="4832.5"/>
<line x1="483.8" y1="3736.1" x2="483.8" y2="4832.5"/>
<line x1="622.8" y1="3736.1" x2="622.8" y2="4832.5"/>
<line x1="761.7" y1="3736.1" x2="761.7" y2="4832.5"/>
<line x1="1040.5" y1="3736.1" x2="1040.5" y2="4832.5"/>
<line x1="1180.4" y1="3736.1" x2="1180.4" y2="4832.5"/>
<line x1="1320.4" y1="3736.1" x2="1320.4" y2="4832.5"/>
<line x1="1460.3" y1="3736.1" x2="1460.3" y2="4832.5"/>
<line x1="1739.3" y1="3736.1" x2="1739.3" y2="4832.5"/>
<line x1="1878.4" y1="3736.1" x2="1878.4" y2="4832.5"/>
<line x1="2017.4" y1="3736.1" x2="2017.4" y2="4832.5"/>
<line x1="2156.5" y1="3736.1" x2="2156.5" y2="4832.5"/>
<line x1="2435" y1="3736.1" x2="2435" y2="4832.5"/>
<line x1="2574.3" y1="3736.1" x2="2574.3" y2="4832.5"/>
<line x1="2713.7" y1="3736.1" x2="2713.7" y2="4832.5"/>
<line x1="2853" y1="3736.1" x2="2853" y2="4832.5"/>
<line x1="3131.6" y1="3736.1" x2="3131.6" y2="4832.5"/>
<line x1="3270.9" y1="3736.1" x2="3270.9" y2="4832.5"/>
<line x1="3410.1" y1="3736.1" x2="3410.1" y2="4832.5"/>
<line x1="3549.4" y1="3736.1" x2="3549.4" y2="4832.5"/>
</g>
<g stroke="#d4d4d4" stroke-width="6">
<line x1="206" y1="3736.1" x2="206" y2="4832.5"/>
<line x1="900.6" y1="3736.1" x2="900.6" y2="4832.5"/>
<line x1="1600.2" y1="3736.1" x2="1600.2" y2="4832.5"/>
<line x1="2295.6" y1="3736.1" x2="2295.6" y2="4832.5"/>
<line x1="2992.4" y1="3736.1" x2="2992.4" y2="4832.5"/>
<line x1="3688.6" y1="3736.1" x2="3688.6" y2="4832.5"/>
</g>
<polyline fill="none" stroke="#3b6ac3" stroke-width="11" stroke-linejoin="round" stroke-linecap="round" points="206.3,4783 209.7,4783 210.5,4734.3 211.3,4731.3 212.1,4734.3 212.4,4761.3 213.3,4765.4 214.3,4783 238.8,4783 239.6,4668.9 240.4,4665.9 241.2,4668.9 241.5,4733.8 242.4,4743.2 243.4,4783 267.9,4783 268.7,4749.3 269.5,4746.3 270.3,4749.3 270.6,4767.6 271.5,4770.5 272.5,4783 297,4783 297.8,4741.1 298.6,4738.1 299.4,4741.1 299.7,4764.1 300.6,4767.7 301.6,4783 326.2,4783 327,4671.7 327.8,4668.7 328.6,4671.7 328.9,4735 329.8,4744.1 330.8,4783 355.3,4783 356.1,4678.5 356.9,4675.5 357.7,4678.5 358,4737.9 358.9,4746.4 359.9,4783 384.4,4783 385.2,4749.3 386,4746.3 386.8,4749.3 387.1,4767.6 388,4770.5 389,4783 413.5,4783 414.3,4700.3 415.1,4697.3 415.9,4700.3 416.2,4747 417.1,4753.9 418.1,4783 442.6,4783 443.4,4668.9 444.2,4665.9 445,4668.9 445.3,4733.8 446.2,4743.2 447.2,4783 471.7,4783 472.5,4723.4 473.3,4720.4 474.1,4723.4 474.4,4756.7 475.3,4761.7 476.3,4783 500.9,4783 501.7,4671.7 502.5,4668.7 503.3,4671.7 503.6,4735 504.5,4744.1 505.5,4783 530,4783 530.8,4668.9 531.6,4665.9 532.4,4668.9 532.7,4733.8 533.6,4743.2 534.6,4783 559.1,4783 559.9,4704.3 560.7,4701.3 561.5,4704.3 561.8,4748.7 562.7,4755.2 563.7,4783 588.2,4783 589,4682.5 589.8,4679.5 590.6,4682.5 590.9,4739.5 591.8,4747.8 592.8,4783 617.3,4783 618.1,4671.7 618.9,4668.7 619.7,4671.7 620,4735 620.9,4744.1 621.9,4783 646.4,4783 647.2,4745.2 648,4742.2 648.8,4745.2 649.1,4765.9 650,4769.1 651,4783 675.6,4783 676.4,4712.5 677.2,4709.5 678,4712.5 678.3,4752.1 679.2,4758 680.2,4783 704.7,4783 705.5,4690.7 706.3,4687.7 707.1,4690.7 707.4,4743 708.3,4750.6 709.3,4783 733.8,4783 734.6,4697.5 735.4,4694.5 736.2,4697.5 736.5,4745.8 737.4,4752.9 738.4,4783 762.9,4783 763.7,4708.5 764.5,4705.5 765.3,4708.5 765.6,4750.4 766.5,4756.6 767.5,4783 792,4783 792.8,4730.2 793.6,4727.2 794.4,4730.2 794.7,4759.6 795.6,4764 796.6,4783 821.1,4783 821.9,4753.4 822.7,4750.4 823.5,4753.4 823.8,4769.3 824.7,4771.9 825.7,4783 850.3,4783 851.1,4705.7 851.9,4702.7 852.7,4705.7 853,4749.3 853.9,4755.7 854.9,4783 879.4,4783 880.2,4668.9 881,4665.9 881.8,4668.9 882.1,4733.8 883,4743.2 884,4783 908.5,4783 909.3,4734.3 910.1,4731.3 910.9,4734.3 911.2,4761.3 912.1,4765.4 913.1,4783 937.6,4783 938.4,4675.7 939.2,4672.7 940,4675.7 940.3,4736.7 941.2,4745.5 942.2,4783 966.7,4783 967.5,4735.7 968.3,4732.7 969.1,4735.7 969.4,4761.9 970.3,4765.9 971.3,4783 995.8,4783 996.6,4727.5 997.4,4724.5 998.2,4727.5 998.5,4758.4 999.4,4763.1 1000.4,4783 1024.9,4783 1025.7,4668.9 1026.5,4665.9 1027.3,4668.9 1027.6,4733.8 1028.5,4743.2 1029.5,4783 1054.1,4783 1054.9,4668.9 1055.7,4665.9 1056.5,4668.9 1056.8,4733.8 1057.7,4743.2 1058.7,4783 1083.2,4783 1084,4723.4 1084.8,4720.4 1085.6,4723.4 1085.9,4756.7 1086.8,4761.7 1087.8,4783 1112.3,4783 1113.1,4700.3 1113.9,4697.3 1114.7,4700.3 1115,4747 1115.9,4753.9 1116.9,4783 1141.4,4783 1142.2,4668.9 1143,4665.9 1143.8,4668.9 1144.1,4733.8 1145,4743.2 1146,4783 1170.5,4783 1171.3,4741.1 1172.1,4738.1 1172.9,4741.1 1173.2,4764.1 1174.1,4767.7 1175.1,4783 1199.6,4783 1200.4,4668.9 1201.2,4665.9 1202,4668.9 1202.3,4733.8 1203.2,4743.2 1204.2,4783 1228.8,4783 1229.6,4668.9 1230.4,4665.9 1231.2,4668.9 1231.5,4733.8 1232.4,4743.2 1233.4,4783 1257.9,4783 1258.7,4716.6 1259.5,4713.6 1260.3,4716.6 1260.6,4753.9 1261.5,4759.4 1262.5,4783 1287,4783 1287.8,4697.5 1288.6,4694.5 1289.4,4697.5 1289.7,4745.8 1290.6,4752.9 1291.6,4783 1316.1,4783 1316.9,4668.9 1317.7,4665.9 1318.5,4668.9 1318.8,4733.8 1319.7,4743.2 1320.7,4783 1345.2,4783 1346,4734.3 1346.8,4731.3 1347.6,4734.3 1347.9,4761.3 1348.8,4765.4 1349.8,4783 1374.3,4783 1375.1,4712.5 1375.9,4709.5 1376.7,4712.5 1377,4752.1 1377.9,4758 1378.9,4783 1403.5,4783 1404.3,4675.7 1405.1,4672.7 1405.9,4675.7 1406.2,4736.7 1407.1,4745.5 1408.1,4783 1432.6,4783 1433.4,4716.6 1434.2,4713.6 1435,4716.6 1435.3,4753.9 1436.2,4759.4 1437.2,4783 1461.7,4783 1462.5,4712.5 1463.3,4709.5 1464.1,4712.5 1464.4,4752.1 1465.3,4758 1466.3,4783 1490.8,4783 1491.6,4723.4 1492.4,4720.4 1493.2,4723.4 1493.5,4756.7 1494.4,4761.7 1495.4,4783 1519.9,4783 1520.7,4718.8 1521.5,4715.8 1522.3,4718.8 1522.6,4754.8 1523.5,4760.2 1524.5,4783 1549,4783 1549.8,4712.5 1550.6,4709.5 1551.4,4712.5 1551.7,4752.1 1552.6,4758 1553.6,4783 1578.2,4783 1579,4668.9 1579.8,4665.9 1580.6,4668.9 1580.9,4733.8 1581.8,4743.2 1582.8,4783 1607.3,4783 1608.1,4723.4 1608.9,4720.4 1609.7,4723.4 1610,4756.7 1610.9,4761.7 1611.9,4783 1636.4,4783 1637.2,4682.5 1638,4679.5 1638.8,4682.5 1639.1,4739.5 1640,4747.8 1641,4783 1665.5,4783 1666.3,4716.6 1667.1,4713.6 1667.9,4716.6 1668.2,4753.9 1669.1,4759.4 1670.1,4783 1694.6,4783 1695.4,4704.3 1696.2,4701.3 1697,4704.3 1697.3,4748.7 1698.2,4755.2 1699.2,4783 1723.7,4783 1724.5,4671.7 1725.3,4668.7 1726.1,4671.7 1726.4,4735 1727.3,4744.1 1728.3,4783 1752.8,4783 1753.6,4668.9 1754.4,4665.9 1755.2,4668.9 1755.5,4733.8 1756.4,4743.2 1757.4,4783 1782,4783 1782.8,4708.5 1783.6,4705.5 1784.4,4708.5 1784.7,4750.4 1785.6,4756.6 1786.6,4783 1811.1,4783 1811.9,4712.5 1812.7,4709.5 1813.5,4712.5 1813.8,4752.1 1814.7,4758 1815.7,4783 1840.2,4783 1841,4671.7 1841.8,4668.7 1842.6,4671.7 1842.9,4735 1843.8,4744.1 1844.8,4783 1869.3,4783 1870.1,4746.5 1870.9,4743.5 1871.7,4746.5 1872,4766.4 1872.9,4769.6 1873.9,4783 1898.4,4783 1899.2,4671.7 1900,4668.7 1900.8,4671.7 1901.1,4735 1902,4744.1 1903,4783 1927.5,4783 1928.3,4668.9 1929.1,4665.9 1929.9,4668.9 1930.2,4733.8 1931.1,4743.2 1932.1,4783 1956.7,4783 1957.5,4723.4 1958.3,4720.4 1959.1,4723.4 1959.4,4756.7 1960.3,4761.7 1961.3,4783 1985.8,4783 1986.6,4723.4 1987.4,4720.4 1988.2,4723.4 1988.5,4756.7 1989.4,4761.7 1990.4,4783 2014.9,4783 2015.7,4671.7 2016.5,4668.7 2017.3,4671.7 2017.6,4735 2018.5,4744.1 2019.5,4783 2044,4783 2044.8,4716.6 2045.6,4713.6 2046.4,4716.6 2046.7,4753.9 2047.6,4759.4 2048.6,4783 2073.1,4783 2073.9,4727.5 2074.7,4724.5 2075.5,4727.5 2075.8,4758.4 2076.7,4763.1 2077.7,4783 2102.2,4783 2103,4668.9 2103.8,4665.9 2104.6,4668.9 2104.9,4733.8 2105.8,4743.2 2106.8,4783 2131.4,4783 2132.2,4738.4 2133,4735.4 2133.8,4738.4 2134.1,4763 2135,4766.8 2136,4783 2160.5,4783 2161.3,4738.4 2162.1,4735.4 2162.9,4738.4 2163.2,4763 2164.1,4766.8 2165.1,4783 2189.6,4783 2190.4,4698.9 2191.2,4695.9 2192,4698.9 2192.3,4746.4 2193.2,4753.4 2194.2,4783 2218.7,4783 2219.5,4694.8 2220.3,4691.8 2221.1,4694.8 2221.4,4744.7 2222.3,4752 2223.3,4783 2247.8,4783 2248.6,4734.3 2249.4,4731.3 2250.2,4734.3 2250.5,4761.3 2251.4,4765.4 2252.4,4783 2276.9,4783 2277.7,4668.9 2278.5,4665.9 2279.3,4668.9 2279.6,4733.8 2280.5,4743.2 2281.5,4783 2306.1,4783 2306.9,4705.7 2307.7,4702.7 2308.5,4705.7 2308.8,4749.3 2309.7,4755.7 2310.7,4783 2335.2,4783 2336,4705.7 2336.8,4702.7 2337.6,4705.7 2337.9,4749.3 2338.8,4755.7 2339.8,4783 2364.3,4783 2365.1,4688 2365.9,4685 2366.7,4688 2367,4741.8 2367.9,4749.7 2368.9,4783 2393.4,4783 2394.2,4679.8 2395,4676.8 2395.8,4679.8 2396.1,4738.4 2397,4746.9 2398,4783 2422.5,4783 2423.3,4683.9 2424.1,4680.9 2424.9,4683.9 2425.2,4740.1 2426.1,4748.3 2427.1,4783 2451.6,4783 2452.4,4683.9 2453.2,4680.9 2454,4683.9 2454.3,4740.1 2455.2,4748.3 2456.2,4783 2480.7,4783 2481.5,4683.9 2482.3,4680.9 2483.1,4683.9 2483.4,4740.1 2484.3,4748.3 2485.3,4783 2509.9,4783 2510.7,4720.7 2511.5,4717.7 2512.3,4720.7 2512.6,4755.6 2513.5,4760.8 2514.5,4783 2539,4783 2539.8,4677.1 2540.6,4674.1 2541.4,4677.1 2541.7,4737.3 2542.6,4746 2543.6,4783 2568.1,4783 2568.9,4716.6 2569.7,4713.6 2570.5,4716.6 2570.8,4753.9 2571.7,4759.4 2572.7,4783 2597.2,4783 2598,4683.9 2598.8,4680.9 2599.6,4683.9 2599.9,4740.1 2600.8,4748.3 2601.8,4783 2626.3,4783 2627.1,4683.9 2627.9,4680.9 2628.7,4683.9 2629,4740.1 2629.9,4748.3 2630.9,4783 2655.4,4783 2656.2,4746.5 2657,4743.5 2657.8,4746.5 2658.1,4766.4 2659,4769.6 2660,4783 2684.6,4783 2685.4,4753.4 2686.2,4750.4 2687,4753.4 2687.3,4769.3 2688.2,4771.9 2689.2,4783 2713.7,4783 2714.5,4688 2715.3,4685 2716.1,4688 2716.4,4741.8 2717.3,4749.7 2718.3,4783 2742.8,4783 2743.6,4690.7 2744.4,4687.7 2745.2,4690.7 2745.5,4743 2746.4,4750.6 2747.4,4783 2771.9,4783 2772.7,4738.4 2773.5,4735.4 2774.3,4738.4 2774.6,4763 2775.5,4766.8 2776.5,4783 2801,4783 2801.8,4668.9 2802.6,4665.9 2803.4,4668.9 2803.7,4733.8 2804.6,4743.2 2805.6,4783 2830.1,4783 2830.9,4749.3 2831.7,4746.3 2832.5,4749.3 2832.8,4767.6 2833.7,4770.5 2834.7,4783 2859.3,4783 2860.1,4750.7 2860.9,4747.7 2861.7,4750.7 2862,4768.2 2862.9,4771 2863.9,4783 2888.4,4783 2889.2,4675.7 2890,4672.7 2890.8,4675.7 2891.1,4736.7 2892,4745.5 2893,4783 2917.5,4783 2918.3,4668.9 2919.1,4665.9 2919.9,4668.9 2920.2,4733.8 2921.1,4743.2 2922.1,4783 2946.6,4783 2947.4,4749.3 2948.2,4746.3 2949,4749.3 2949.3,4767.6 2950.2,4770.5 2951.2,4783 2975.7,4783 2976.5,4671.7 2977.3,4668.7 2978.1,4671.7 2978.4,4735 2979.3,4744.1 2980.3,4783 3004.8,4783 3005.6,4686.6 3006.4,4683.6 3007.2,4686.6 3007.5,4741.3 3008.4,4749.2 3009.4,4783 3034,4783 3034.8,4730.2 3035.6,4727.2 3036.4,4730.2 3036.7,4759.6 3037.6,4764 3038.6,4783 3063.1,4783 3063.9,4675.7 3064.7,4672.7 3065.5,4675.7 3065.8,4736.7 3066.7,4745.5 3067.7,4783 3092.2,4783 3093,4668.9 3093.8,4665.9 3094.6,4668.9 3094.9,4733.8 3095.8,4743.2 3096.8,4783 3121.3,4783 3122.1,4693.5 3122.9,4690.5 3123.7,4693.5 3124,4744.1 3124.9,4751.6 3125.9,4783 3150.4,4783 3151.2,4697.5 3152,4694.5 3152.8,4697.5 3153.1,4745.8 3154,4752.9 3155,4783 3179.5,4783 3180.3,4668.9 3181.1,4665.9 3181.9,4668.9 3182.2,4733.8 3183.1,4743.2 3184.1,4783 3208.6,4783 3209.4,4734.3 3210.2,4731.3 3211,4734.3 3211.3,4761.3 3212.2,4765.4 3213.2,4783 3237.8,4783 3238.6,4679.8 3239.4,4676.8 3240.2,4679.8 3240.5,4738.4 3241.4,4746.9 3242.4,4783 3266.9,4783 3267.7,4686.6 3268.5,4683.6 3269.3,4686.6 3269.6,4741.3 3270.5,4749.2 3271.5,4783 3296,4783 3296.8,4694.8 3297.6,4691.8 3298.4,4694.8 3298.7,4744.7 3299.6,4752 3300.6,4783 3325.1,4783 3325.9,4694.8 3326.7,4691.8 3327.5,4694.8 3327.8,4744.7 3328.7,4752 3329.7,4783 3354.2,4783 3355,4742.5 3355.8,4739.5 3356.6,4742.5 3356.9,4764.7 3357.8,4768.2 3358.8,4783 3383.3,4783 3384.1,4709.8 3384.9,4706.8 3385.7,4709.8 3386,4751 3386.9,4757.1 3387.9,4783 3412.5,4783 3413.3,4709.8 3414.1,4706.8 3414.9,4709.8 3415.2,4751 3416.1,4757.1 3417.1,4783 3441.6,4783 3442.4,4683.9 3443.2,4680.9 3444,4683.9 3444.3,4740.1 3445.2,4748.3 3446.2,4783 3470.7,4783 3471.5,4746.5 3472.3,4743.5 3473.1,4746.5 3473.4,4766.4 3474.3,4769.6 3475.3,4783 3499.8,4783 3500.6,4675.7 3501.4,4672.7 3502.2,4675.7 3502.5,4736.7 3503.4,4745.5 3504.4,4783 3528.9,4783 3529.7,4735.7 3530.5,4732.7 3531.3,4735.7 3531.6,4761.9 3532.5,4765.9 3533.5,4783 3558,4783 3558.8,4730.2 3559.6,4727.2 3560.4,4730.2 3560.7,4759.6 3561.6,4764 3562.6,4783 3587.2,4783 3588,4668.9 3588.8,4665.9 3589.6,4668.9 3589.9,4733.8 3590.8,4743.2 3591.8,4783 3616.3,4783 3617.1,4668.1 3617.9,4665.1 3618.7,4668.1 3619,4733.5 3619.9,4742.9 3620.9,4783 3645.4,4783 3646.2,4700.8 3647,4697.8 3647.8,4700.8 3648.1,4747.2 3649,4754 3650,4783 3674.5,4783 3675.3,4678.3 3676.1,4675.3 3676.9,4678.3 3677.2,4737.8 3678.1,4746.4 3679.1,4783 3688.5,4783"/>
<text x="1198.4" y="3609" font-size="93" textLength="395.4" lengthAdjust="spacingAndGlyphs">Backlight</text>
<text x="1618.1" y="3609" font-size="93" textLength="97.5" lengthAdjust="spacingAndGlyphs">@</text>
<text x="1738" y="3609" font-size="93" textLength="425" lengthAdjust="spacingAndGlyphs">Minimum</text>
<text x="2188" y="3609" font-size="93" textLength="454.5" lengthAdjust="spacingAndGlyphs">Brightness</text>
<text x="206.3" y="4944.5" font-size="64" text-anchor="middle">0</text>
<text x="903.5" y="4944.5" font-size="64" text-anchor="middle">0.05</text>
<text x="1598.2" y="4944.5" font-size="64" text-anchor="middle">0.1</text>
<text x="2298" y="4944.5" font-size="64" text-anchor="middle">0.15</text>
<text x="2992.6" y="4944.5" font-size="64" text-anchor="middle">0.2</text>
<text x="3692.2" y="4944.5" font-size="64" text-anchor="middle">0.25</text>
<text x="1711.4" y="5057.3" font-size="68" textLength="158.8" lengthAdjust="spacingAndGlyphs">Time</text>
<text x="1885.8" y="5057.3" font-size="68" textLength="297.2" lengthAdjust="spacingAndGlyphs">(seconds)</text>
<text transform="translate(172.6 4458.9) rotate(-90)" font-size="66" textLength="344.8" lengthAdjust="spacingAndGlyphs">Luminosity</text>
</g>
</svg>
</body></html>
